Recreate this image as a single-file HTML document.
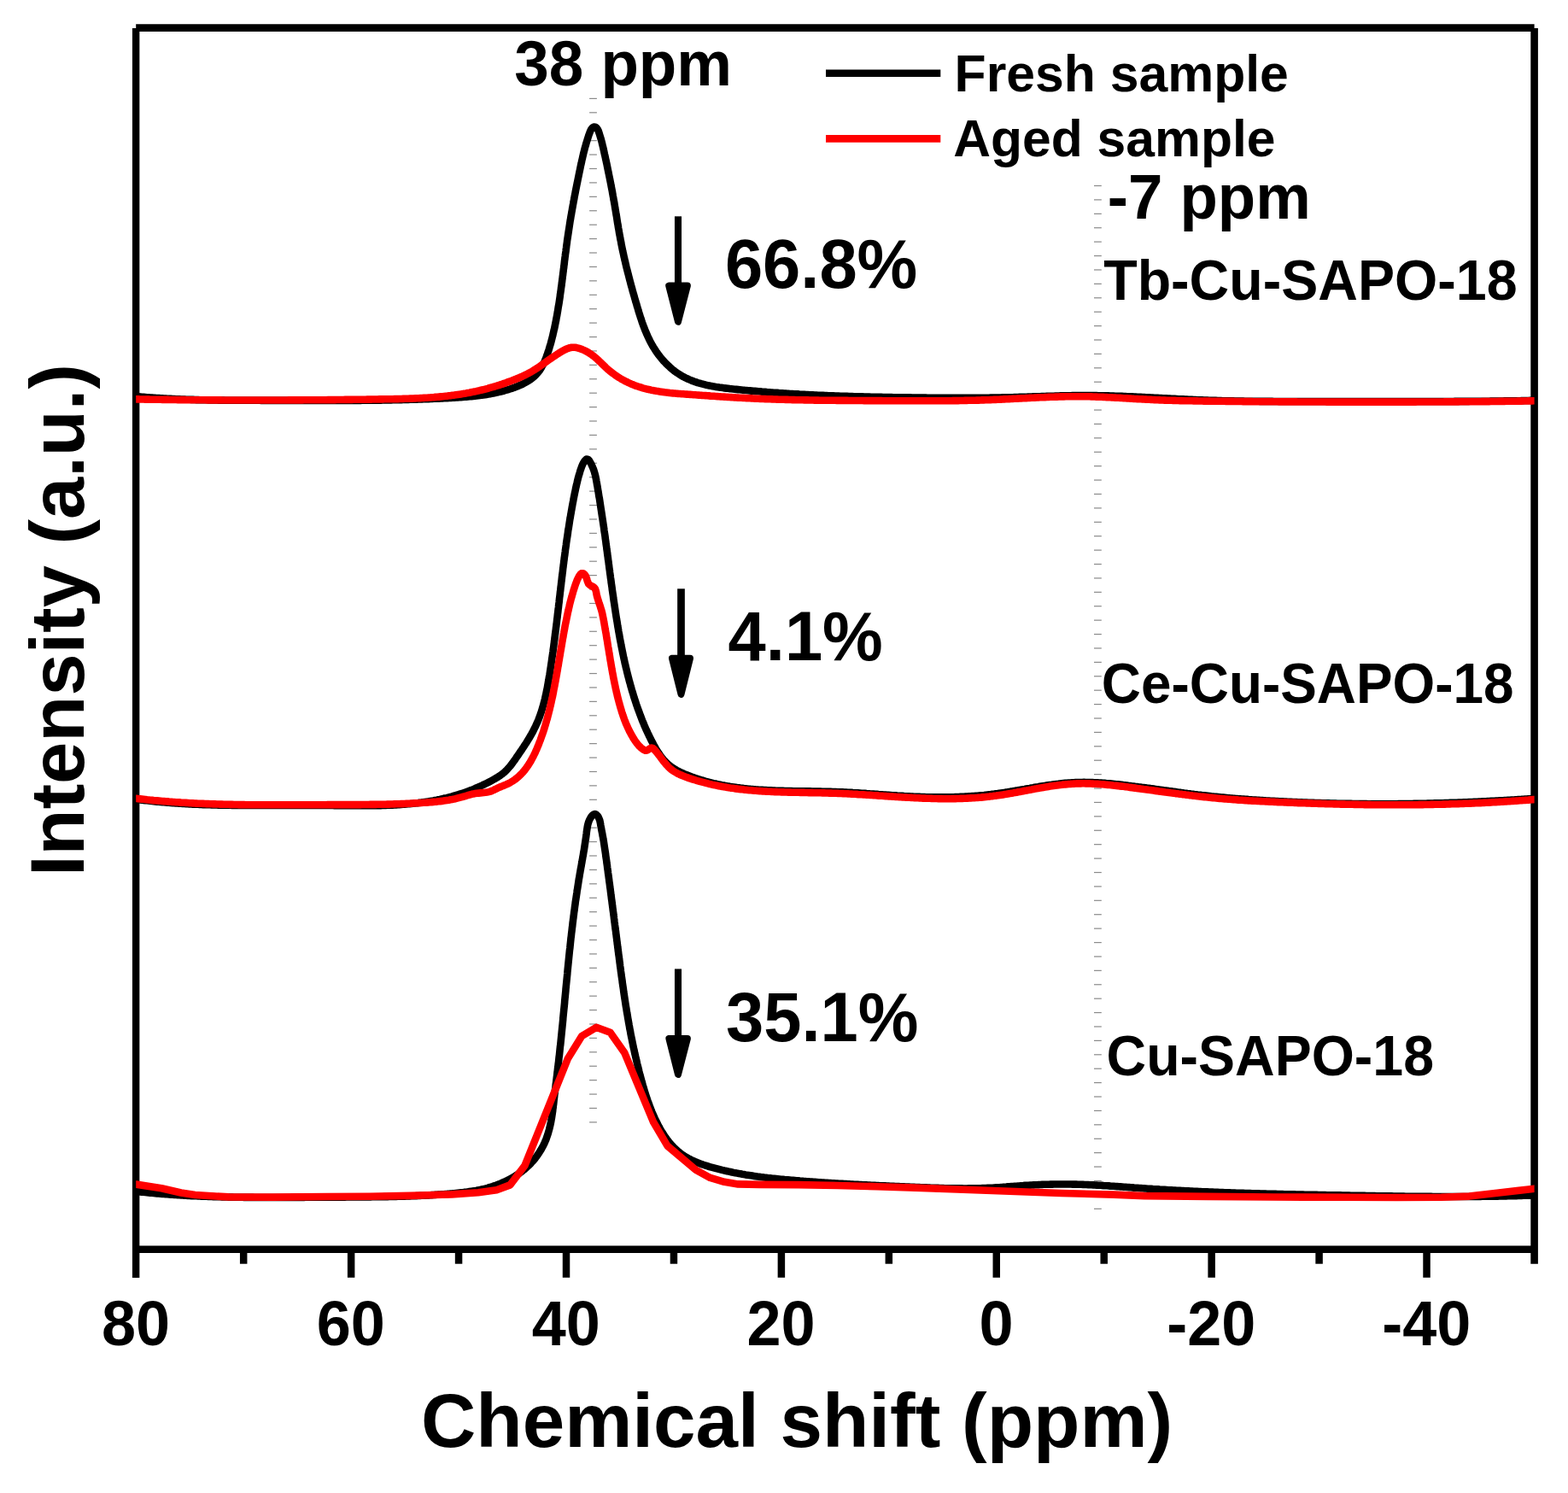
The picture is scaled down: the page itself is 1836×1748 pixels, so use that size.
<!DOCTYPE html>
<html><head><meta charset="utf-8"><title>Chemical shift plot</title>
<style>html,body{margin:0;padding:0;background:#fff;}svg{display:block;}</style>
</head><body>
<svg xmlns="http://www.w3.org/2000/svg" width="1836" height="1748" viewBox="0 0 1836 1748">
<rect x="0" y="0" width="1836" height="1748" fill="#fff"/>
<rect x="690.1" y="114.80" width="8.8" height="1.2" fill="#8a8a8a"/>
<rect x="690.1" y="131.22" width="8.8" height="1.2" fill="#8a8a8a"/>
<rect x="690.1" y="147.64" width="8.8" height="1.2" fill="#8a8a8a"/>
<rect x="690.1" y="164.05" width="8.8" height="1.2" fill="#8a8a8a"/>
<rect x="690.1" y="180.47" width="8.8" height="1.2" fill="#8a8a8a"/>
<rect x="690.1" y="196.89" width="8.8" height="1.2" fill="#8a8a8a"/>
<rect x="690.1" y="213.31" width="8.8" height="1.2" fill="#8a8a8a"/>
<rect x="690.1" y="229.73" width="8.8" height="1.2" fill="#8a8a8a"/>
<rect x="690.1" y="246.14" width="8.8" height="1.2" fill="#8a8a8a"/>
<rect x="690.1" y="262.56" width="8.8" height="1.2" fill="#8a8a8a"/>
<rect x="690.1" y="278.98" width="8.8" height="1.2" fill="#8a8a8a"/>
<rect x="690.1" y="295.40" width="8.8" height="1.2" fill="#8a8a8a"/>
<rect x="690.1" y="311.82" width="8.8" height="1.2" fill="#8a8a8a"/>
<rect x="690.1" y="328.23" width="8.8" height="1.2" fill="#8a8a8a"/>
<rect x="690.1" y="344.65" width="8.8" height="1.2" fill="#8a8a8a"/>
<rect x="690.1" y="361.07" width="8.8" height="1.2" fill="#8a8a8a"/>
<rect x="690.1" y="377.49" width="8.8" height="1.2" fill="#8a8a8a"/>
<rect x="690.1" y="393.91" width="8.8" height="1.2" fill="#8a8a8a"/>
<rect x="690.1" y="410.32" width="8.8" height="1.2" fill="#8a8a8a"/>
<rect x="690.1" y="426.74" width="8.8" height="1.2" fill="#8a8a8a"/>
<rect x="690.1" y="443.16" width="8.8" height="1.2" fill="#8a8a8a"/>
<rect x="690.1" y="459.58" width="8.8" height="1.2" fill="#8a8a8a"/>
<rect x="690.1" y="476.00" width="8.8" height="1.2" fill="#8a8a8a"/>
<rect x="690.1" y="492.41" width="8.8" height="1.2" fill="#8a8a8a"/>
<rect x="690.1" y="508.83" width="8.8" height="1.2" fill="#8a8a8a"/>
<rect x="690.1" y="525.25" width="8.8" height="1.2" fill="#8a8a8a"/>
<rect x="690.1" y="541.67" width="8.8" height="1.2" fill="#8a8a8a"/>
<rect x="690.1" y="558.09" width="8.8" height="1.2" fill="#8a8a8a"/>
<rect x="690.1" y="574.50" width="8.8" height="1.2" fill="#8a8a8a"/>
<rect x="690.1" y="590.92" width="8.8" height="1.2" fill="#8a8a8a"/>
<rect x="690.1" y="607.34" width="8.8" height="1.2" fill="#8a8a8a"/>
<rect x="690.1" y="623.76" width="8.8" height="1.2" fill="#8a8a8a"/>
<rect x="690.1" y="640.18" width="8.8" height="1.2" fill="#8a8a8a"/>
<rect x="690.1" y="656.59" width="8.8" height="1.2" fill="#8a8a8a"/>
<rect x="690.1" y="673.01" width="8.8" height="1.2" fill="#8a8a8a"/>
<rect x="690.1" y="689.43" width="8.8" height="1.2" fill="#8a8a8a"/>
<rect x="690.1" y="705.85" width="8.8" height="1.2" fill="#8a8a8a"/>
<rect x="690.1" y="722.27" width="8.8" height="1.2" fill="#8a8a8a"/>
<rect x="690.1" y="738.68" width="8.8" height="1.2" fill="#8a8a8a"/>
<rect x="690.1" y="755.10" width="8.8" height="1.2" fill="#8a8a8a"/>
<rect x="690.1" y="771.52" width="8.8" height="1.2" fill="#8a8a8a"/>
<rect x="690.1" y="787.94" width="8.8" height="1.2" fill="#8a8a8a"/>
<rect x="690.1" y="804.36" width="8.8" height="1.2" fill="#8a8a8a"/>
<rect x="690.1" y="820.77" width="8.8" height="1.2" fill="#8a8a8a"/>
<rect x="690.1" y="837.19" width="8.8" height="1.2" fill="#8a8a8a"/>
<rect x="690.1" y="853.61" width="8.8" height="1.2" fill="#8a8a8a"/>
<rect x="690.1" y="870.03" width="8.8" height="1.2" fill="#8a8a8a"/>
<rect x="690.1" y="886.45" width="8.8" height="1.2" fill="#8a8a8a"/>
<rect x="690.1" y="902.86" width="8.8" height="1.2" fill="#8a8a8a"/>
<rect x="690.1" y="919.28" width="8.8" height="1.2" fill="#8a8a8a"/>
<rect x="690.1" y="935.70" width="8.8" height="1.2" fill="#8a8a8a"/>
<rect x="690.1" y="952.12" width="8.8" height="1.2" fill="#8a8a8a"/>
<rect x="690.1" y="968.54" width="8.8" height="1.2" fill="#8a8a8a"/>
<rect x="690.1" y="984.95" width="8.8" height="1.2" fill="#8a8a8a"/>
<rect x="690.1" y="1001.37" width="8.8" height="1.2" fill="#8a8a8a"/>
<rect x="690.1" y="1017.79" width="8.8" height="1.2" fill="#8a8a8a"/>
<rect x="690.1" y="1034.21" width="8.8" height="1.2" fill="#8a8a8a"/>
<rect x="690.1" y="1050.63" width="8.8" height="1.2" fill="#8a8a8a"/>
<rect x="690.1" y="1067.04" width="8.8" height="1.2" fill="#8a8a8a"/>
<rect x="690.1" y="1083.46" width="8.8" height="1.2" fill="#8a8a8a"/>
<rect x="690.1" y="1099.88" width="8.8" height="1.2" fill="#8a8a8a"/>
<rect x="690.1" y="1116.30" width="8.8" height="1.2" fill="#8a8a8a"/>
<rect x="690.1" y="1132.72" width="8.8" height="1.2" fill="#8a8a8a"/>
<rect x="690.1" y="1149.13" width="8.8" height="1.2" fill="#8a8a8a"/>
<rect x="690.1" y="1165.55" width="8.8" height="1.2" fill="#8a8a8a"/>
<rect x="690.1" y="1181.97" width="8.8" height="1.2" fill="#8a8a8a"/>
<rect x="690.1" y="1198.39" width="8.8" height="1.2" fill="#8a8a8a"/>
<rect x="690.1" y="1214.81" width="8.8" height="1.2" fill="#8a8a8a"/>
<rect x="690.1" y="1231.22" width="8.8" height="1.2" fill="#8a8a8a"/>
<rect x="690.1" y="1247.64" width="8.8" height="1.2" fill="#8a8a8a"/>
<rect x="690.1" y="1264.06" width="8.8" height="1.2" fill="#8a8a8a"/>
<rect x="690.1" y="1280.48" width="8.8" height="1.2" fill="#8a8a8a"/>
<rect x="690.1" y="1296.90" width="8.8" height="1.2" fill="#8a8a8a"/>
<rect x="690.1" y="1313.31" width="8.8" height="1.2" fill="#8a8a8a"/>
<rect x="1281.0" y="216.90" width="8.8" height="1.2" fill="#8a8a8a"/>
<rect x="1281.0" y="233.31" width="8.8" height="1.2" fill="#8a8a8a"/>
<rect x="1281.0" y="249.72" width="8.8" height="1.2" fill="#8a8a8a"/>
<rect x="1281.0" y="266.12" width="8.8" height="1.2" fill="#8a8a8a"/>
<rect x="1281.0" y="282.53" width="8.8" height="1.2" fill="#8a8a8a"/>
<rect x="1281.0" y="298.94" width="8.8" height="1.2" fill="#8a8a8a"/>
<rect x="1281.0" y="315.35" width="8.8" height="1.2" fill="#8a8a8a"/>
<rect x="1281.0" y="331.76" width="8.8" height="1.2" fill="#8a8a8a"/>
<rect x="1281.0" y="348.16" width="8.8" height="1.2" fill="#8a8a8a"/>
<rect x="1281.0" y="364.57" width="8.8" height="1.2" fill="#8a8a8a"/>
<rect x="1281.0" y="380.98" width="8.8" height="1.2" fill="#8a8a8a"/>
<rect x="1281.0" y="397.39" width="8.8" height="1.2" fill="#8a8a8a"/>
<rect x="1281.0" y="413.80" width="8.8" height="1.2" fill="#8a8a8a"/>
<rect x="1281.0" y="430.20" width="8.8" height="1.2" fill="#8a8a8a"/>
<rect x="1281.0" y="446.61" width="8.8" height="1.2" fill="#8a8a8a"/>
<rect x="1281.0" y="463.02" width="8.8" height="1.2" fill="#8a8a8a"/>
<rect x="1281.0" y="479.43" width="8.8" height="1.2" fill="#8a8a8a"/>
<rect x="1281.0" y="495.84" width="8.8" height="1.2" fill="#8a8a8a"/>
<rect x="1281.0" y="512.24" width="8.8" height="1.2" fill="#8a8a8a"/>
<rect x="1281.0" y="528.65" width="8.8" height="1.2" fill="#8a8a8a"/>
<rect x="1281.0" y="545.06" width="8.8" height="1.2" fill="#8a8a8a"/>
<rect x="1281.0" y="561.47" width="8.8" height="1.2" fill="#8a8a8a"/>
<rect x="1281.0" y="577.88" width="8.8" height="1.2" fill="#8a8a8a"/>
<rect x="1281.0" y="594.28" width="8.8" height="1.2" fill="#8a8a8a"/>
<rect x="1281.0" y="610.69" width="8.8" height="1.2" fill="#8a8a8a"/>
<rect x="1281.0" y="627.10" width="8.8" height="1.2" fill="#8a8a8a"/>
<rect x="1281.0" y="643.51" width="8.8" height="1.2" fill="#8a8a8a"/>
<rect x="1281.0" y="659.92" width="8.8" height="1.2" fill="#8a8a8a"/>
<rect x="1281.0" y="676.32" width="8.8" height="1.2" fill="#8a8a8a"/>
<rect x="1281.0" y="692.73" width="8.8" height="1.2" fill="#8a8a8a"/>
<rect x="1281.0" y="709.14" width="8.8" height="1.2" fill="#8a8a8a"/>
<rect x="1281.0" y="725.55" width="8.8" height="1.2" fill="#8a8a8a"/>
<rect x="1281.0" y="741.96" width="8.8" height="1.2" fill="#8a8a8a"/>
<rect x="1281.0" y="758.36" width="8.8" height="1.2" fill="#8a8a8a"/>
<rect x="1281.0" y="774.77" width="8.8" height="1.2" fill="#8a8a8a"/>
<rect x="1281.0" y="791.18" width="8.8" height="1.2" fill="#8a8a8a"/>
<rect x="1281.0" y="807.59" width="8.8" height="1.2" fill="#8a8a8a"/>
<rect x="1281.0" y="824.00" width="8.8" height="1.2" fill="#8a8a8a"/>
<rect x="1281.0" y="840.40" width="8.8" height="1.2" fill="#8a8a8a"/>
<rect x="1281.0" y="856.81" width="8.8" height="1.2" fill="#8a8a8a"/>
<rect x="1281.0" y="873.22" width="8.8" height="1.2" fill="#8a8a8a"/>
<rect x="1281.0" y="889.63" width="8.8" height="1.2" fill="#8a8a8a"/>
<rect x="1281.0" y="906.04" width="8.8" height="1.2" fill="#8a8a8a"/>
<rect x="1281.0" y="922.44" width="8.8" height="1.2" fill="#8a8a8a"/>
<rect x="1281.0" y="938.85" width="8.8" height="1.2" fill="#8a8a8a"/>
<rect x="1281.0" y="955.26" width="8.8" height="1.2" fill="#8a8a8a"/>
<rect x="1281.0" y="971.67" width="8.8" height="1.2" fill="#8a8a8a"/>
<rect x="1281.0" y="988.08" width="8.8" height="1.2" fill="#8a8a8a"/>
<rect x="1281.0" y="1004.48" width="8.8" height="1.2" fill="#8a8a8a"/>
<rect x="1281.0" y="1020.89" width="8.8" height="1.2" fill="#8a8a8a"/>
<rect x="1281.0" y="1037.30" width="8.8" height="1.2" fill="#8a8a8a"/>
<rect x="1281.0" y="1053.71" width="8.8" height="1.2" fill="#8a8a8a"/>
<rect x="1281.0" y="1070.12" width="8.8" height="1.2" fill="#8a8a8a"/>
<rect x="1281.0" y="1086.52" width="8.8" height="1.2" fill="#8a8a8a"/>
<rect x="1281.0" y="1102.93" width="8.8" height="1.2" fill="#8a8a8a"/>
<rect x="1281.0" y="1119.34" width="8.8" height="1.2" fill="#8a8a8a"/>
<rect x="1281.0" y="1135.75" width="8.8" height="1.2" fill="#8a8a8a"/>
<rect x="1281.0" y="1152.16" width="8.8" height="1.2" fill="#8a8a8a"/>
<rect x="1281.0" y="1168.56" width="8.8" height="1.2" fill="#8a8a8a"/>
<rect x="1281.0" y="1184.97" width="8.8" height="1.2" fill="#8a8a8a"/>
<rect x="1281.0" y="1201.38" width="8.8" height="1.2" fill="#8a8a8a"/>
<rect x="1281.0" y="1217.79" width="8.8" height="1.2" fill="#8a8a8a"/>
<rect x="1281.0" y="1234.20" width="8.8" height="1.2" fill="#8a8a8a"/>
<rect x="1281.0" y="1250.60" width="8.8" height="1.2" fill="#8a8a8a"/>
<rect x="1281.0" y="1267.01" width="8.8" height="1.2" fill="#8a8a8a"/>
<rect x="1281.0" y="1283.42" width="8.8" height="1.2" fill="#8a8a8a"/>
<rect x="1281.0" y="1299.83" width="8.8" height="1.2" fill="#8a8a8a"/>
<rect x="1281.0" y="1316.24" width="8.8" height="1.2" fill="#8a8a8a"/>
<rect x="1281.0" y="1332.64" width="8.8" height="1.2" fill="#8a8a8a"/>
<rect x="1281.0" y="1349.05" width="8.8" height="1.2" fill="#8a8a8a"/>
<rect x="1281.0" y="1365.46" width="8.8" height="1.2" fill="#8a8a8a"/>
<rect x="1281.0" y="1381.87" width="8.8" height="1.2" fill="#8a8a8a"/>
<rect x="1281.0" y="1398.28" width="8.8" height="1.2" fill="#8a8a8a"/>
<rect x="1281.0" y="1414.68" width="8.8" height="1.2" fill="#8a8a8a"/>
<line x1="159.2" y1="32.55" x2="1796.6" y2="32.55" stroke="#000" stroke-width="8.7"/>
<line x1="159.15" y1="33" x2="159.15" y2="1496" stroke="#000" stroke-width="8.4"/>
<line x1="1796.6" y1="33" x2="1796.6" y2="1479.7" stroke="#000" stroke-width="8.6"/>
<line x1="159.2" y1="1462.75" x2="1796.6" y2="1462.75" stroke="#000" stroke-width="8.5"/>
<line x1="285.19" y1="1462.75" x2="285.19" y2="1479.7" stroke="#000" stroke-width="8.5"/>
<line x1="411.13" y1="1462.75" x2="411.13" y2="1495.8" stroke="#000" stroke-width="8.5"/>
<line x1="537.07" y1="1462.75" x2="537.07" y2="1479.7" stroke="#000" stroke-width="8.5"/>
<line x1="663.01" y1="1462.75" x2="663.01" y2="1495.8" stroke="#000" stroke-width="8.5"/>
<line x1="788.95" y1="1462.75" x2="788.95" y2="1479.7" stroke="#000" stroke-width="8.5"/>
<line x1="914.89" y1="1462.75" x2="914.89" y2="1495.8" stroke="#000" stroke-width="8.5"/>
<line x1="1040.83" y1="1462.75" x2="1040.83" y2="1479.7" stroke="#000" stroke-width="8.5"/>
<line x1="1166.77" y1="1462.75" x2="1166.77" y2="1495.8" stroke="#000" stroke-width="8.5"/>
<line x1="1292.71" y1="1462.75" x2="1292.71" y2="1479.7" stroke="#000" stroke-width="8.5"/>
<line x1="1418.65" y1="1462.75" x2="1418.65" y2="1495.8" stroke="#000" stroke-width="8.5"/>
<line x1="1544.59" y1="1462.75" x2="1544.59" y2="1479.7" stroke="#000" stroke-width="8.5"/>
<line x1="1670.53" y1="1462.75" x2="1670.53" y2="1495.8" stroke="#000" stroke-width="8.5"/>
<defs><clipPath id="plot"><rect x="159.2" y="30" width="1637.4" height="1440"/></clipPath></defs>
<g clip-path="url(#plot)">
<path d="M154.2,463.6 L156.2,463.8 L158.2,464.0 L160.2,464.1 L162.2,464.3 L164.2,464.5 L166.2,464.7 L168.2,464.8 L170.1,465.0 L172.1,465.2 L174.1,465.3 L176.1,465.5 L178.1,465.6 L180.1,465.7 L182.1,465.9 L184.1,466.0 L186.1,466.1 L188.1,466.3 L190.1,466.4 L192.1,466.5 L194.1,466.6 L196.1,466.7 L198.1,466.8 L200.1,466.9 L202.1,467.0 L204.1,467.1 L206.1,467.2 L208.1,467.3 L210.1,467.4 L212.1,467.5 L214.1,467.5 L216.1,467.6 L218.1,467.7 L220.1,467.8 L222.1,467.8 L224.1,467.9 L226.1,467.9 L228.1,468.0 L230.1,468.1 L232.1,468.1 L234.1,468.2 L236.1,468.2 L238.1,468.3 L240.0,468.3 L242.0,468.3 L244.0,468.4 L246.0,468.4 L248.0,468.5 L250.0,468.5 L252.0,468.5 L254.0,468.5 L256.0,468.6 L258.0,468.6 L260.0,468.6 L262.0,468.6 L264.0,468.7 L266.0,468.7 L268.0,468.7 L270.0,468.7 L272.0,468.7 L274.0,468.7 L276.0,468.8 L278.0,468.8 L280.0,468.8 L282.0,468.8 L284.0,468.8 L286.0,468.8 L288.0,468.8 L290.0,468.8 L292.0,468.8 L294.0,468.8 L296.0,468.8 L298.0,468.8 L300.0,468.8 L302.0,468.8 L304.0,468.8 L306.0,468.9 L308.0,468.9 L310.0,468.9 L312.0,468.9 L314.0,468.9 L316.0,468.9 L318.0,468.9 L320.0,468.9 L322.0,468.9 L324.0,468.9 L326.0,468.9 L328.0,468.9 L330.0,468.9 L332.0,468.9 L334.0,468.9 L336.0,468.9 L338.0,468.9 L340.0,468.9 L342.0,468.9 L344.0,468.9 L346.0,468.9 L348.0,468.9 L350.0,468.9 L352.0,469.0 L354.0,469.0 L356.0,469.0 L358.0,469.0 L360.0,469.0 L362.0,469.0 L364.0,469.0 L366.0,469.0 L368.0,469.0 L370.0,469.0 L372.0,469.0 L374.0,469.0 L376.0,469.0 L378.0,469.0 L380.0,469.0 L382.0,469.0 L384.0,469.0 L386.0,469.0 L388.0,469.0 L390.0,469.0 L392.0,469.0 L394.0,469.0 L396.0,469.0 L398.0,469.0 L400.0,469.0 L402.0,469.0 L404.0,469.0 L406.0,468.9 L408.0,468.9 L410.0,468.9 L412.0,468.9 L414.0,468.9 L416.0,468.9 L418.0,468.9 L420.0,468.9 L422.0,468.9 L424.0,468.8 L426.0,468.8 L428.0,468.8 L430.0,468.8 L432.0,468.8 L434.0,468.7 L436.0,468.7 L438.0,468.7 L440.0,468.7 L442.0,468.6 L444.0,468.6 L446.0,468.6 L448.0,468.5 L450.0,468.5 L452.0,468.5 L454.0,468.4 L456.0,468.4 L458.0,468.4 L460.0,468.3 L462.0,468.3 L464.0,468.2 L466.0,468.2 L468.0,468.1 L470.0,468.1 L472.0,468.0 L474.0,468.0 L476.0,467.9 L478.0,467.9 L480.0,467.8 L482.0,467.8 L484.0,467.7 L486.0,467.7 L488.0,467.6 L490.0,467.5 L492.0,467.5 L494.0,467.4 L496.0,467.3 L498.0,467.2 L500.0,467.2 L502.0,467.1 L504.0,467.0 L506.0,466.9 L508.0,466.8 L510.0,466.7 L512.0,466.7 L514.0,466.6 L516.0,466.5 L518.0,466.4 L520.0,466.3 L522.0,466.2 L524.0,466.1 L526.0,466.0 L528.0,465.9 L530.0,465.8 L532.0,465.6 L534.0,465.5 L535.9,465.4 L537.9,465.3 L539.9,465.1 L541.9,465.0 L543.9,464.8 L545.9,464.7 L547.9,464.5 L549.9,464.3 L551.9,464.1 L553.9,463.9 L555.9,463.7 L557.9,463.5 L559.8,463.3 L561.8,463.0 L563.8,462.8 L565.8,462.5 L567.8,462.2 L569.7,461.9 L571.7,461.6 L573.7,461.2 L575.7,460.8 L577.6,460.5 L579.6,460.1 L581.5,459.6 L583.5,459.2 L585.4,458.7 L587.4,458.3 L589.3,457.8 L591.2,457.2 L593.2,456.7 L595.1,456.1 L597.0,455.5 L598.9,454.9 L600.8,454.2 L602.7,453.6 L604.5,452.8 L606.4,452.1 L608.2,451.3 L610.1,450.5 L611.9,449.7 L613.6,448.8 L615.4,447.8 L617.1,446.8 L618.8,445.8 L620.5,444.7 L622.1,443.5 L623.7,442.3 L625.2,441.0 L626.7,439.6 L628.1,438.2 L629.4,436.7 L630.7,435.2 L631.9,433.6 L633.0,431.9 L634.1,430.2 L635.0,428.4 L636.0,426.7 L636.8,424.9 L637.7,423.1 L638.4,421.2 L639.2,419.4 L639.9,417.5 L640.6,415.6 L641.2,413.7 L641.8,411.8 L642.5,409.9 L643.1,408.0 L643.6,406.1 L644.2,404.2 L644.8,402.2 L645.3,400.3 L645.8,398.4 L646.3,396.5 L646.8,394.5 L647.3,392.6 L647.7,390.6 L648.2,388.7 L648.6,386.7 L649.1,384.8 L649.5,382.8 L649.9,380.9 L650.3,378.9 L650.7,376.9 L651.1,375.0 L651.4,373.0 L651.8,371.0 L652.2,369.1 L652.5,367.1 L652.9,365.1 L653.2,363.2 L653.5,361.2 L653.8,359.2 L654.2,357.2 L654.5,355.3 L654.8,353.3 L655.1,351.3 L655.4,349.3 L655.7,347.4 L655.9,345.4 L656.2,343.4 L656.5,341.4 L656.8,339.4 L657.0,337.5 L657.3,335.5 L657.6,333.5 L657.8,331.5 L658.1,329.5 L658.3,327.5 L658.6,325.6 L658.8,323.6 L659.1,321.6 L659.3,319.6 L659.6,317.6 L659.8,315.6 L660.1,313.7 L660.3,311.7 L660.6,309.7 L660.8,307.7 L661.0,305.7 L661.3,303.7 L661.5,301.7 L661.8,299.8 L662.0,297.8 L662.3,295.8 L662.6,293.8 L662.8,291.8 L663.1,289.8 L663.3,287.9 L663.6,285.9 L663.9,283.9 L664.1,281.9 L664.4,279.9 L664.7,278.0 L665.0,276.0 L665.3,274.0 L665.6,272.0 L665.9,270.0 L666.2,268.1 L666.5,266.1 L666.8,264.1 L667.1,262.1 L667.4,260.2 L667.7,258.2 L668.1,256.2 L668.4,254.2 L668.7,252.3 L669.1,250.3 L669.4,248.3 L669.8,246.4 L670.1,244.4 L670.5,242.4 L670.8,240.5 L671.2,238.5 L671.5,236.5 L671.9,234.6 L672.3,232.6 L672.6,230.6 L673.0,228.7 L673.4,226.7 L673.8,224.7 L674.1,222.8 L674.5,220.8 L674.9,218.8 L675.3,216.9 L675.7,214.9 L676.1,213.0 L676.5,211.0 L676.9,209.0 L677.3,207.1 L677.7,205.1 L678.1,203.2 L678.5,201.2 L678.9,199.3 L679.3,197.3 L679.7,195.3 L680.1,193.4 L680.6,191.4 L681.0,189.5 L681.4,187.5 L681.9,185.6 L682.3,183.6 L682.8,181.7 L683.2,179.7 L683.7,177.8 L684.2,175.9 L684.7,173.9 L685.2,172.0 L685.8,170.1 L686.3,168.1 L686.9,166.2 L687.5,164.3 L688.1,162.4 L688.7,160.5 L689.3,158.6 L690.0,156.7 L690.7,154.8 L691.4,153.0 L692.4,151.2 L693.6,149.7 L695.3,148.6 L697.2,148.8 L698.8,150.0 L699.9,151.7 L700.8,153.5 L701.4,155.4 L702.0,157.3 L702.6,159.2 L703.2,161.1 L703.7,163.0 L704.3,165.0 L704.8,166.9 L705.2,168.8 L705.7,170.8 L706.2,172.7 L706.6,174.7 L707.1,176.6 L707.5,178.6 L707.9,180.5 L708.4,182.5 L708.8,184.4 L709.2,186.4 L709.7,188.3 L710.1,190.3 L710.5,192.2 L710.9,194.2 L711.3,196.2 L711.7,198.1 L712.1,200.1 L712.5,202.0 L712.9,204.0 L713.3,206.0 L713.7,207.9 L714.1,209.9 L714.5,211.8 L714.9,213.8 L715.3,215.8 L715.6,217.7 L716.0,219.7 L716.4,221.7 L716.8,223.6 L717.1,225.6 L717.5,227.6 L717.8,229.5 L718.2,231.5 L718.5,233.5 L718.9,235.4 L719.2,237.4 L719.6,239.4 L719.9,241.3 L720.2,243.3 L720.6,245.3 L720.9,247.3 L721.2,249.2 L721.5,251.2 L721.9,253.2 L722.2,255.2 L722.5,257.1 L722.8,259.1 L723.1,261.1 L723.5,263.0 L723.8,265.0 L724.1,267.0 L724.5,269.0 L724.8,270.9 L725.1,272.9 L725.5,274.9 L725.9,276.8 L726.2,278.8 L726.6,280.8 L727.0,282.7 L727.3,284.7 L727.7,286.7 L728.1,288.6 L728.5,290.6 L728.9,292.5 L729.3,294.5 L729.8,296.5 L730.2,298.4 L730.6,300.4 L731.1,302.3 L731.5,304.3 L732.0,306.2 L732.4,308.2 L732.9,310.1 L733.3,312.0 L733.8,314.0 L734.3,315.9 L734.8,317.9 L735.3,319.8 L735.8,321.7 L736.3,323.7 L736.8,325.6 L737.3,327.6 L737.8,329.5 L738.3,331.4 L738.8,333.3 L739.3,335.3 L739.9,337.2 L740.4,339.1 L740.9,341.1 L741.5,343.0 L742.0,344.9 L742.6,346.8 L743.1,348.8 L743.7,350.7 L744.2,352.6 L744.8,354.5 L745.4,356.4 L745.9,358.4 L746.5,360.3 L747.1,362.2 L747.6,364.1 L748.2,366.0 L748.8,367.9 L749.4,369.8 L750.0,371.7 L750.7,373.6 L751.3,375.5 L751.9,377.4 L752.6,379.3 L753.3,381.2 L754.0,383.1 L754.7,384.9 L755.4,386.8 L756.2,388.6 L757.0,390.5 L757.8,392.3 L758.6,394.1 L759.5,395.9 L760.3,397.7 L761.2,399.5 L762.2,401.3 L763.1,403.0 L764.1,404.8 L765.1,406.5 L766.2,408.2 L767.3,409.9 L768.4,411.6 L769.5,413.2 L770.7,414.8 L771.9,416.4 L773.1,418.0 L774.4,419.5 L775.7,421.1 L777.0,422.6 L778.4,424.0 L779.7,425.5 L781.2,426.9 L782.6,428.3 L784.1,429.6 L785.6,431.0 L787.1,432.3 L788.6,433.5 L790.2,434.7 L791.9,435.9 L793.5,437.0 L795.2,438.1 L796.9,439.2 L798.6,440.2 L800.3,441.2 L802.1,442.1 L803.9,443.0 L805.7,443.8 L807.6,444.6 L809.4,445.4 L811.3,446.1 L813.2,446.8 L815.0,447.4 L816.9,448.1 L818.9,448.6 L820.8,449.2 L822.7,449.7 L824.6,450.2 L826.6,450.7 L828.5,451.1 L830.5,451.5 L832.5,451.9 L834.4,452.3 L836.4,452.6 L838.4,453.0 L840.3,453.3 L842.3,453.6 L844.3,453.8 L846.3,454.1 L848.3,454.4 L850.3,454.6 L852.2,454.8 L854.2,455.1 L856.2,455.3 L858.2,455.5 L860.2,455.7 L862.2,455.9 L864.2,456.1 L866.2,456.3 L868.2,456.5 L870.1,456.7 L872.1,456.9 L874.1,457.0 L876.1,457.2 L878.1,457.4 L880.1,457.6 L882.1,457.8 L884.1,457.9 L886.1,458.1 L888.1,458.3 L890.1,458.4 L892.1,458.6 L894.1,458.7 L896.0,458.9 L898.0,459.1 L900.0,459.2 L902.0,459.4 L904.0,459.5 L906.0,459.7 L908.0,459.8 L910.0,459.9 L912.0,460.1 L914.0,460.2 L916.0,460.3 L918.0,460.5 L920.0,460.6 L922.0,460.7 L924.0,460.9 L926.0,461.0 L928.0,461.1 L930.0,461.2 L932.0,461.3 L934.0,461.4 L936.0,461.6 L937.9,461.7 L939.9,461.8 L941.9,461.9 L943.9,462.0 L945.9,462.1 L947.9,462.2 L949.9,462.3 L951.9,462.4 L953.9,462.5 L955.9,462.6 L957.9,462.7 L959.9,462.7 L961.9,462.8 L963.9,462.9 L965.9,463.0 L967.9,463.1 L969.9,463.2 L971.9,463.2 L973.9,463.3 L975.9,463.4 L977.9,463.5 L979.9,463.5 L981.9,463.6 L983.9,463.7 L985.9,463.7 L987.9,463.8 L989.9,463.9 L991.9,463.9 L993.9,464.0 L995.9,464.1 L997.9,464.1 L999.9,464.2 L1001.9,464.2 L1003.9,464.3 L1005.9,464.3 L1007.9,464.4 L1009.9,464.4 L1011.9,464.5 L1013.9,464.5 L1015.9,464.6 L1017.9,464.6 L1019.9,464.7 L1021.9,464.7 L1023.9,464.8 L1025.9,464.8 L1027.9,464.8 L1029.9,464.9 L1031.9,464.9 L1033.9,465.0 L1035.9,465.0 L1037.9,465.0 L1039.9,465.1 L1041.9,465.1 L1043.9,465.1 L1045.9,465.2 L1047.9,465.2 L1049.9,465.2 L1051.9,465.3 L1053.9,465.3 L1055.9,465.3 L1057.9,465.3 L1059.9,465.4 L1061.9,465.4 L1063.9,465.4 L1065.9,465.4 L1067.9,465.5 L1069.9,465.5 L1071.9,465.5 L1073.9,465.5 L1075.9,465.6 L1077.9,465.6 L1079.9,465.6 L1081.9,465.6 L1083.9,465.6 L1085.9,465.7 L1087.9,465.7 L1089.9,465.7 L1091.9,465.7 L1093.9,465.7 L1095.9,465.8 L1097.9,465.8 L1099.9,465.8 L1101.9,465.8 L1103.9,465.8 L1105.9,465.8 L1107.9,465.8 L1109.9,465.8 L1111.9,465.8 L1113.9,465.8 L1115.9,465.9 L1117.9,465.9 L1119.9,465.9 L1121.9,465.9 L1123.9,465.9 L1125.9,465.9 L1127.9,465.9 L1129.9,465.9 L1131.9,465.9 L1133.9,465.8 L1135.9,465.8 L1137.9,465.8 L1139.9,465.8 L1141.9,465.8 L1143.9,465.8 L1145.9,465.8 L1147.9,465.8 L1149.9,465.8 L1151.9,465.7 L1153.9,465.7 L1155.9,465.7 L1157.9,465.7 L1159.9,465.6 L1161.9,465.6 L1163.9,465.6 L1165.9,465.6 L1167.9,465.5 L1169.9,465.5 L1171.9,465.5 L1173.9,465.4 L1175.9,465.4 L1177.8,465.3 L1179.8,465.3 L1181.8,465.3 L1183.8,465.2 L1185.8,465.2 L1187.8,465.1 L1189.8,465.1 L1191.8,465.0 L1193.8,464.9 L1195.8,464.9 L1197.8,464.8 L1199.8,464.8 L1201.8,464.7 L1203.8,464.6 L1205.8,464.6 L1207.8,464.5 L1209.8,464.4 L1211.8,464.4 L1213.8,464.3 L1215.8,464.2 L1217.8,464.2 L1219.8,464.1 L1221.8,464.0 L1223.8,464.0 L1225.8,463.9 L1227.8,463.8 L1229.8,463.8 L1231.8,463.7 L1233.8,463.7 L1235.8,463.6 L1237.8,463.5 L1239.8,463.5 L1241.8,463.4 L1243.8,463.4 L1245.8,463.3 L1247.8,463.3 L1249.8,463.2 L1251.8,463.2 L1253.8,463.2 L1255.8,463.1 L1257.8,463.1 L1259.8,463.1 L1261.8,463.1 L1263.8,463.1 L1265.8,463.0 L1267.8,463.0 L1269.8,463.0 L1271.8,463.0 L1273.8,463.0 L1275.8,463.0 L1277.8,463.1 L1279.8,463.1 L1281.8,463.1 L1283.8,463.1 L1285.8,463.2 L1287.8,463.2 L1289.8,463.2 L1291.8,463.3 L1293.8,463.3 L1295.8,463.4 L1297.8,463.4 L1299.8,463.5 L1301.8,463.5 L1303.8,463.6 L1305.8,463.7 L1307.8,463.7 L1309.8,463.8 L1311.8,463.9 L1313.8,463.9 L1315.8,464.0 L1317.8,464.1 L1319.8,464.2 L1321.8,464.3 L1323.8,464.4 L1325.8,464.4 L1327.8,464.5 L1329.8,464.6 L1331.8,464.7 L1333.8,464.8 L1335.8,464.9 L1337.8,465.0 L1339.8,465.1 L1341.8,465.2 L1343.8,465.3 L1345.8,465.4 L1347.7,465.5 L1349.7,465.6 L1351.7,465.7 L1353.7,465.8 L1355.7,465.9 L1357.7,466.0 L1359.7,466.1 L1361.7,466.2 L1363.7,466.3 L1365.7,466.4 L1367.7,466.5 L1369.7,466.6 L1371.7,466.7 L1373.7,466.8 L1375.7,466.9 L1377.7,467.0 L1379.7,467.2 L1381.7,467.2 L1383.7,467.3 L1385.7,467.4 L1387.7,467.5 L1389.7,467.6 L1391.7,467.7 L1393.7,467.8 L1395.7,467.9 L1397.7,468.0 L1399.7,468.1 L1401.7,468.2 L1403.7,468.3 L1405.7,468.3 L1407.7,468.4 L1409.7,468.5 L1411.7,468.6 L1413.7,468.6 L1415.7,468.7 L1417.7,468.8 L1419.7,468.8 L1421.7,468.9 L1423.7,468.9 L1425.7,469.0 L1427.7,469.1 L1429.7,469.1 L1431.7,469.2 L1433.7,469.2 L1435.7,469.3 L1437.7,469.3 L1439.7,469.4 L1441.7,469.4 L1443.7,469.4 L1445.7,469.5 L1447.7,469.5 L1449.7,469.5 L1451.7,469.6 L1453.6,469.6 L1455.6,469.6 L1457.6,469.7 L1459.6,469.7 L1461.6,469.7 L1463.6,469.7 L1465.6,469.8 L1467.6,469.8 L1469.6,469.8 L1471.6,469.8 L1473.6,469.8 L1475.6,469.9 L1477.6,469.9 L1479.6,469.9 L1481.6,469.9 L1483.6,469.9 L1485.6,469.9 L1487.6,469.9 L1489.6,469.9 L1491.6,470.0 L1493.6,470.0 L1495.6,470.0 L1497.6,470.0 L1499.6,470.0 L1501.6,470.0 L1503.6,470.0 L1505.6,470.0 L1507.6,470.0 L1509.6,470.0 L1511.6,470.0 L1513.6,470.0 L1515.6,470.0 L1517.6,470.0 L1519.6,470.0 L1521.6,470.0 L1523.6,470.0 L1525.6,470.0 L1527.6,470.0 L1529.6,470.0 L1531.6,470.0 L1533.6,470.0 L1535.6,470.0 L1537.6,470.0 L1539.6,470.0 L1541.6,470.0 L1543.6,470.0 L1545.6,470.0 L1547.6,470.0 L1549.6,470.0 L1551.6,470.0 L1553.6,470.0 L1555.6,470.0 L1557.6,470.0 L1559.6,470.0 L1561.6,470.0 L1563.6,470.0 L1565.6,470.0 L1567.6,470.0 L1569.6,470.0 L1571.6,470.0 L1573.6,470.0 L1575.6,470.0 L1577.6,470.0 L1579.6,470.0 L1581.6,470.0 L1583.6,470.0 L1585.6,470.0 L1587.6,470.0 L1589.6,470.0 L1591.6,470.0 L1593.6,470.0 L1595.6,470.0 L1597.6,470.0 L1599.6,470.0 L1601.6,470.0 L1603.6,470.0 L1605.6,470.0 L1607.6,470.0 L1609.6,470.0 L1611.6,470.0 L1613.6,470.0 L1615.6,470.0 L1617.6,470.0 L1619.6,470.0 L1621.6,470.0 L1623.6,470.0 L1625.6,470.0 L1627.6,470.0 L1629.6,470.0 L1631.6,470.0 L1633.6,470.0 L1635.6,470.0 L1637.6,470.0 L1639.6,470.0 L1641.6,470.0 L1643.6,470.0 L1645.6,470.0 L1647.6,470.0 L1649.6,470.0 L1651.6,470.0 L1653.6,470.0 L1655.6,470.0 L1657.6,470.0 L1659.6,470.0 L1661.6,470.0 L1663.6,470.0 L1665.6,470.0 L1667.6,470.0 L1669.6,470.0 L1671.6,470.0 L1673.6,470.0 L1675.6,470.0 L1677.6,470.0 L1679.6,470.0 L1681.6,470.0 L1683.6,470.0 L1685.6,470.0 L1687.6,470.0 L1689.6,470.0 L1691.6,470.0 L1693.6,470.0 L1695.6,470.0 L1697.6,470.0 L1699.6,470.0 L1701.6,470.0 L1703.6,469.9 L1705.6,469.9 L1707.6,469.9 L1709.6,469.9 L1711.6,469.9 L1713.6,469.9 L1715.6,469.9 L1717.6,469.9 L1719.6,469.9 L1721.6,469.8 L1723.6,469.8 L1725.6,469.8 L1727.6,469.8 L1729.6,469.8 L1731.6,469.8 L1733.6,469.7 L1735.6,469.7 L1737.6,469.7 L1739.6,469.7 L1741.6,469.7 L1743.6,469.7 L1745.6,469.6 L1747.6,469.6 L1749.6,469.6 L1751.6,469.6 L1753.6,469.5 L1755.6,469.5 L1757.6,469.5 L1759.6,469.5 L1761.6,469.4 L1763.6,469.4 L1765.6,469.4 L1767.6,469.3 L1769.6,469.3 L1771.6,469.3 L1773.6,469.3 L1775.6,469.2 L1777.6,469.2 L1779.6,469.2 L1781.6,469.1 L1783.6,469.1 L1785.6,469.0 L1787.6,469.0 L1789.6,469.0 L1791.6,468.9 L1793.6,468.9 L1795.6,468.8 L1797.6,468.8 L1799.6,468.7 L1801.6,468.7" fill="none" stroke="#000" stroke-width="8.6" stroke-linejoin="round" stroke-linecap="butt"/>
<path d="M154.1,935.0 L156.1,935.3 L158.1,935.6 L160.1,935.9 L162.1,936.1 L164.1,936.4 L166.0,936.6 L168.0,936.9 L170.0,937.1 L172.0,937.3 L174.0,937.5 L176.0,937.8 L178.0,938.0 L179.9,938.2 L181.9,938.4 L183.9,938.6 L185.9,938.8 L187.9,939.0 L189.9,939.1 L191.9,939.3 L193.9,939.5 L195.9,939.6 L197.9,939.8 L199.9,940.0 L201.9,940.1 L203.8,940.2 L205.8,940.4 L207.8,940.5 L209.8,940.7 L211.8,940.8 L213.8,940.9 L215.8,941.0 L217.8,941.1 L219.8,941.2 L221.8,941.4 L223.8,941.5 L225.8,941.6 L227.8,941.6 L229.8,941.7 L231.8,941.8 L233.8,941.9 L235.8,942.0 L237.8,942.1 L239.8,942.1 L241.8,942.2 L243.8,942.3 L245.8,942.3 L247.8,942.4 L249.8,942.4 L251.8,942.5 L253.8,942.5 L255.8,942.6 L257.8,942.6 L259.8,942.7 L261.8,942.7 L263.8,942.7 L265.8,942.8 L267.8,942.8 L269.8,942.8 L271.8,942.9 L273.8,942.9 L275.8,942.9 L277.8,942.9 L279.8,942.9 L281.8,943.0 L283.8,943.0 L285.8,943.0 L287.7,943.0 L289.7,943.0 L291.7,943.0 L293.7,943.0 L295.7,943.0 L297.7,943.0 L299.7,943.0 L301.7,943.0 L303.7,943.0 L305.7,943.0 L307.7,943.0 L309.7,943.0 L311.7,943.0 L313.7,943.0 L315.7,943.0 L317.7,943.0 L319.7,943.0 L321.7,943.0 L323.7,943.0 L325.7,943.0 L327.7,943.0 L329.7,943.0 L331.7,943.0 L333.7,942.9 L335.7,942.9 L337.7,942.9 L339.7,942.9 L341.7,942.9 L343.7,942.9 L345.7,942.9 L347.7,942.9 L349.7,942.9 L351.7,942.9 L353.7,942.9 L355.7,942.9 L357.7,942.9 L359.7,942.9 L361.7,942.9 L363.7,942.9 L365.7,942.9 L367.7,942.9 L369.7,942.9 L371.7,942.9 L373.7,942.9 L375.7,942.9 L377.7,942.9 L379.7,942.9 L381.7,943.0 L383.7,943.0 L385.7,943.0 L387.7,943.0 L389.7,943.0 L391.7,943.1 L393.7,943.1 L395.7,943.1 L397.7,943.1 L399.7,943.1 L401.7,943.2 L403.7,943.2 L405.7,943.2 L407.7,943.2 L409.7,943.3 L411.7,943.3 L413.7,943.3 L415.7,943.3 L417.7,943.3 L419.7,943.3 L421.7,943.3 L423.7,943.3 L425.7,943.3 L427.7,943.3 L429.7,943.3 L431.7,943.3 L433.7,943.3 L435.7,943.3 L437.7,943.2 L439.7,943.2 L441.7,943.2 L443.7,943.1 L445.7,943.1 L447.7,943.0 L449.7,943.0 L451.7,942.9 L453.7,942.8 L455.7,942.7 L457.7,942.7 L459.7,942.6 L461.7,942.5 L463.7,942.4 L465.6,942.2 L467.6,942.1 L469.6,942.0 L471.6,941.8 L473.6,941.7 L475.6,941.5 L477.6,941.3 L479.6,941.2 L481.6,941.0 L483.6,940.8 L485.6,940.5 L487.6,940.3 L489.5,940.1 L491.5,939.8 L493.5,939.6 L495.5,939.3 L497.5,939.0 L499.4,938.7 L501.4,938.4 L503.4,938.1 L505.4,937.7 L507.3,937.4 L509.3,937.0 L511.3,936.7 L513.2,936.3 L515.2,935.9 L517.1,935.4 L519.1,935.0 L521.0,934.5 L523.0,934.1 L524.9,933.6 L526.8,933.1 L528.8,932.6 L530.7,932.0 L532.6,931.5 L534.5,930.9 L536.5,930.3 L538.4,929.7 L540.3,929.1 L542.2,928.5 L544.1,927.9 L545.9,927.2 L547.8,926.5 L549.7,925.8 L551.6,925.1 L553.4,924.4 L555.3,923.6 L557.1,922.8 L559.0,922.0 L560.8,921.2 L562.6,920.4 L564.4,919.6 L566.2,918.7 L568.0,917.9 L569.8,917.0 L571.6,916.1 L573.4,915.2 L575.2,914.2 L576.9,913.3 L578.7,912.3 L580.4,911.3 L582.1,910.3 L583.8,909.2 L585.5,908.1 L587.1,906.9 L588.7,905.7 L590.2,904.5 L591.7,903.1 L593.1,901.7 L594.5,900.3 L595.8,898.8 L597.1,897.3 L598.4,895.7 L599.6,894.1 L600.7,892.5 L601.9,890.9 L603.1,889.2 L604.2,887.6 L605.3,885.9 L606.5,884.3 L607.6,882.6 L608.7,881.0 L609.9,879.3 L611.0,877.7 L612.1,876.0 L613.2,874.4 L614.3,872.7 L615.4,871.0 L616.5,869.3 L617.5,867.6 L618.6,865.9 L619.6,864.2 L620.6,862.5 L621.6,860.8 L622.6,859.0 L623.6,857.3 L624.5,855.5 L625.4,853.7 L626.3,851.9 L627.2,850.1 L628.0,848.3 L628.8,846.5 L629.6,844.7 L630.4,842.8 L631.1,840.9 L631.8,839.1 L632.5,837.2 L633.1,835.3 L633.8,833.4 L634.4,831.5 L635.0,829.6 L635.5,827.7 L636.1,825.8 L636.6,823.8 L637.1,821.9 L637.6,820.0 L638.1,818.0 L638.5,816.1 L639.0,814.1 L639.4,812.2 L639.8,810.2 L640.2,808.2 L640.6,806.3 L641.0,804.3 L641.3,802.4 L641.7,800.4 L642.0,798.4 L642.4,796.4 L642.7,794.5 L643.0,792.5 L643.4,790.5 L643.7,788.6 L644.0,786.6 L644.3,784.6 L644.6,782.6 L644.9,780.7 L645.2,778.7 L645.5,776.7 L645.8,774.7 L646.1,772.7 L646.3,770.8 L646.6,768.8 L646.9,766.8 L647.2,764.8 L647.5,762.8 L647.7,760.9 L648.0,758.9 L648.3,756.9 L648.5,754.9 L648.8,752.9 L649.0,751.0 L649.3,749.0 L649.5,747.0 L649.8,745.0 L650.0,743.0 L650.3,741.0 L650.5,739.1 L650.8,737.1 L651.0,735.1 L651.3,733.1 L651.5,731.1 L651.8,729.1 L652.0,727.1 L652.2,725.2 L652.5,723.2 L652.7,721.2 L652.9,719.2 L653.2,717.2 L653.4,715.2 L653.6,713.3 L653.9,711.3 L654.1,709.3 L654.3,707.3 L654.6,705.3 L654.8,703.3 L655.0,701.3 L655.2,699.4 L655.5,697.4 L655.7,695.4 L655.9,693.4 L656.2,691.4 L656.4,689.4 L656.6,687.4 L656.9,685.5 L657.1,683.5 L657.3,681.5 L657.6,679.5 L657.8,677.5 L658.0,675.5 L658.3,673.5 L658.5,671.6 L658.8,669.6 L659.0,667.6 L659.2,665.6 L659.5,663.6 L659.7,661.6 L660.0,659.7 L660.2,657.7 L660.5,655.7 L660.7,653.7 L661.0,651.7 L661.3,649.7 L661.5,647.8 L661.8,645.8 L662.0,643.8 L662.3,641.8 L662.6,639.8 L662.9,637.8 L663.1,635.9 L663.4,633.9 L663.7,631.9 L664.0,629.9 L664.3,628.0 L664.6,626.0 L664.9,624.0 L665.1,622.0 L665.4,620.0 L665.8,618.1 L666.1,616.1 L666.4,614.1 L666.7,612.1 L667.0,610.2 L667.3,608.2 L667.7,606.2 L668.0,604.3 L668.3,602.3 L668.7,600.3 L669.0,598.3 L669.4,596.4 L669.7,594.4 L670.1,592.4 L670.4,590.5 L670.8,588.5 L671.2,586.5 L671.5,584.6 L671.9,582.6 L672.3,580.7 L672.7,578.7 L673.1,576.7 L673.5,574.8 L673.9,572.8 L674.3,570.9 L674.8,568.9 L675.2,567.0 L675.7,565.0 L676.1,563.1 L676.6,561.1 L677.1,559.2 L677.6,557.3 L678.2,555.4 L678.8,553.4 L679.3,551.5 L680.0,549.6 L680.6,547.7 L681.3,545.9 L682.1,544.0 L683.0,542.2 L684.0,540.5 L685.2,538.9 L686.7,537.6 L688.5,537.7 L689.9,539.2 L690.9,540.9 L691.9,542.6 L692.8,544.4 L693.6,546.2 L694.4,548.1 L695.1,549.9 L695.7,551.8 L696.3,553.8 L696.8,555.7 L697.3,557.6 L697.7,559.6 L698.1,561.5 L698.4,563.5 L698.8,565.5 L699.1,567.5 L699.5,569.4 L699.8,571.4 L700.1,573.4 L700.5,575.3 L700.8,577.3 L701.1,579.3 L701.4,581.3 L701.8,583.2 L702.1,585.2 L702.4,587.2 L702.7,589.1 L703.0,591.1 L703.3,593.1 L703.6,595.1 L703.9,597.0 L704.2,599.0 L704.5,601.0 L704.8,603.0 L705.1,605.0 L705.4,606.9 L705.7,608.9 L706.0,610.9 L706.3,612.9 L706.6,614.8 L706.9,616.8 L707.2,618.8 L707.4,620.8 L707.7,622.8 L708.0,624.7 L708.3,626.7 L708.6,628.7 L708.8,630.7 L709.1,632.7 L709.4,634.6 L709.6,636.6 L709.9,638.6 L710.2,640.6 L710.4,642.6 L710.7,644.5 L711.0,646.5 L711.2,648.5 L711.5,650.5 L711.8,652.5 L712.0,654.5 L712.3,656.4 L712.6,658.4 L712.8,660.4 L713.1,662.4 L713.3,664.4 L713.6,666.3 L713.9,668.3 L714.1,670.3 L714.4,672.3 L714.7,674.3 L714.9,676.3 L715.2,678.2 L715.5,680.2 L715.7,682.2 L716.0,684.2 L716.3,686.2 L716.6,688.1 L716.8,690.1 L717.1,692.1 L717.4,694.1 L717.7,696.1 L718.0,698.0 L718.2,700.0 L718.5,702.0 L718.8,704.0 L719.1,705.9 L719.4,707.9 L719.7,709.9 L720.0,711.9 L720.3,713.9 L720.6,715.8 L720.9,717.8 L721.2,719.8 L721.5,721.8 L721.8,723.7 L722.1,725.7 L722.5,727.7 L722.8,729.7 L723.1,731.6 L723.4,733.6 L723.8,735.6 L724.1,737.5 L724.4,739.5 L724.8,741.5 L725.1,743.4 L725.5,745.4 L725.8,747.4 L726.2,749.3 L726.6,751.3 L727.0,753.3 L727.3,755.2 L727.7,757.2 L728.1,759.2 L728.5,761.1 L728.9,763.1 L729.3,765.0 L729.7,767.0 L730.1,769.0 L730.5,770.9 L731.0,772.9 L731.4,774.8 L731.8,776.8 L732.3,778.7 L732.7,780.7 L733.2,782.6 L733.7,784.5 L734.1,786.5 L734.6,788.4 L735.1,790.4 L735.6,792.3 L736.1,794.2 L736.6,796.2 L737.1,798.1 L737.7,800.0 L738.2,802.0 L738.7,803.9 L739.3,805.8 L739.8,807.7 L740.4,809.6 L741.0,811.6 L741.6,813.5 L742.1,815.4 L742.7,817.3 L743.4,819.2 L744.0,821.1 L744.6,823.0 L745.2,824.9 L745.9,826.8 L746.5,828.7 L747.2,830.6 L747.9,832.4 L748.6,834.3 L749.3,836.2 L750.0,838.1 L750.7,839.9 L751.4,841.8 L752.1,843.6 L752.9,845.5 L753.7,847.3 L754.4,849.2 L755.2,851.0 L756.0,852.9 L756.8,854.7 L757.7,856.5 L758.5,858.3 L759.4,860.1 L760.2,861.9 L761.1,863.7 L762.0,865.5 L762.9,867.3 L763.9,869.1 L764.8,870.8 L765.7,872.6 L766.7,874.3 L767.7,876.1 L768.7,877.8 L769.8,879.5 L770.9,881.2 L772.0,882.8 L773.1,884.5 L774.3,886.1 L775.5,887.6 L776.8,889.2 L778.1,890.7 L779.5,892.1 L780.9,893.6 L782.4,894.9 L783.9,896.2 L785.5,897.4 L787.1,898.6 L788.8,899.7 L790.5,900.8 L792.2,901.8 L793.9,902.7 L795.7,903.6 L797.5,904.5 L799.4,905.3 L801.2,906.1 L803.0,906.9 L804.9,907.6 L806.8,908.3 L808.6,909.0 L810.5,909.7 L812.4,910.4 L814.3,911.0 L816.2,911.7 L818.1,912.3 L820.0,912.9 L821.9,913.5 L823.8,914.0 L825.7,914.6 L827.7,915.1 L829.6,915.6 L831.5,916.1 L833.5,916.6 L835.4,917.1 L837.4,917.5 L839.3,918.0 L841.3,918.4 L843.2,918.8 L845.2,919.2 L847.2,919.5 L849.1,919.9 L851.1,920.3 L853.1,920.6 L855.0,920.9 L857.0,921.2 L859.0,921.5 L861.0,921.8 L862.9,922.1 L864.9,922.3 L866.9,922.6 L868.9,922.8 L870.9,923.1 L872.9,923.3 L874.9,923.5 L876.8,923.7 L878.8,923.9 L880.8,924.0 L882.8,924.2 L884.8,924.4 L886.8,924.5 L888.8,924.7 L890.8,924.8 L892.8,924.9 L894.8,925.0 L896.8,925.1 L898.8,925.2 L900.8,925.3 L902.8,925.4 L904.8,925.5 L906.8,925.6 L908.8,925.7 L910.8,925.7 L912.8,925.8 L914.8,925.8 L916.8,925.9 L918.8,926.0 L920.8,926.0 L922.8,926.0 L924.8,926.1 L926.8,926.1 L928.8,926.2 L930.8,926.2 L932.8,926.2 L934.7,926.3 L936.7,926.3 L938.7,926.3 L940.7,926.3 L942.7,926.4 L944.7,926.4 L946.7,926.4 L948.7,926.4 L950.7,926.5 L952.7,926.5 L954.7,926.5 L956.7,926.6 L958.7,926.6 L960.7,926.6 L962.7,926.7 L964.7,926.7 L966.7,926.8 L968.7,926.8 L970.7,926.8 L972.7,926.9 L974.7,927.0 L976.7,927.0 L978.7,927.1 L980.7,927.2 L982.7,927.2 L984.7,927.3 L986.7,927.4 L988.7,927.5 L990.7,927.6 L992.7,927.7 L994.7,927.8 L996.7,927.9 L998.7,928.1 L1000.7,928.2 L1002.7,928.3 L1004.7,928.4 L1006.7,928.5 L1008.7,928.7 L1010.7,928.8 L1012.7,928.9 L1014.7,929.1 L1016.6,929.2 L1018.6,929.4 L1020.6,929.5 L1022.6,929.6 L1024.6,929.8 L1026.6,929.9 L1028.6,930.1 L1030.6,930.2 L1032.6,930.3 L1034.6,930.5 L1036.6,930.6 L1038.6,930.8 L1040.6,930.9 L1042.6,931.0 L1044.6,931.2 L1046.6,931.3 L1048.6,931.4 L1050.5,931.6 L1052.5,931.7 L1054.5,931.8 L1056.5,931.9 L1058.5,932.1 L1060.5,932.2 L1062.5,932.3 L1064.5,932.4 L1066.5,932.5 L1068.5,932.6 L1070.5,932.7 L1072.5,932.8 L1074.5,932.8 L1076.5,932.9 L1078.5,933.0 L1080.5,933.1 L1082.5,933.1 L1084.5,933.2 L1086.5,933.2 L1088.5,933.3 L1090.5,933.3 L1092.5,933.3 L1094.5,933.4 L1096.5,933.4 L1098.5,933.4 L1100.5,933.4 L1102.5,933.4 L1104.5,933.4 L1106.5,933.4 L1108.5,933.4 L1110.5,933.3 L1112.5,933.3 L1114.5,933.2 L1116.5,933.2 L1118.5,933.1 L1120.5,933.1 L1122.5,933.0 L1124.5,932.9 L1126.5,932.8 L1128.5,932.7 L1130.5,932.6 L1132.5,932.5 L1134.5,932.4 L1136.4,932.3 L1138.4,932.1 L1140.4,932.0 L1142.4,931.8 L1144.4,931.7 L1146.4,931.5 L1148.4,931.3 L1150.4,931.2 L1152.4,931.0 L1154.4,930.7 L1156.4,930.5 L1158.3,930.3 L1160.3,930.1 L1162.3,929.8 L1164.3,929.6 L1166.3,929.3 L1168.3,929.1 L1170.2,928.8 L1172.2,928.5 L1174.2,928.2 L1176.2,927.9 L1178.1,927.6 L1180.1,927.3 L1182.1,926.9 L1184.1,926.6 L1186.0,926.3 L1188.0,925.9 L1190.0,925.6 L1191.9,925.3 L1193.9,924.9 L1195.9,924.6 L1197.9,924.2 L1199.8,923.9 L1201.8,923.5 L1203.8,923.2 L1205.7,922.9 L1207.7,922.5 L1209.7,922.2 L1211.6,921.8 L1213.6,921.5 L1215.6,921.2 L1217.6,920.8 L1219.5,920.5 L1221.5,920.2 L1223.5,919.9 L1225.5,919.6 L1227.4,919.3 L1229.4,919.0 L1231.4,918.8 L1233.4,918.5 L1235.4,918.2 L1237.3,918.0 L1239.3,917.8 L1241.3,917.5 L1243.3,917.3 L1245.3,917.1 L1247.3,916.9 L1249.3,916.8 L1251.3,916.6 L1253.3,916.5 L1255.3,916.3 L1257.3,916.2 L1259.3,916.1 L1261.2,916.1 L1263.2,916.0 L1265.2,916.0 L1267.2,916.0 L1269.2,915.9 L1271.2,916.0 L1273.2,916.0 L1275.2,916.0 L1277.2,916.1 L1279.2,916.1 L1281.2,916.2 L1283.2,916.3 L1285.2,916.4 L1287.2,916.5 L1289.2,916.6 L1291.2,916.8 L1293.2,916.9 L1295.2,917.1 L1297.2,917.2 L1299.2,917.4 L1301.2,917.6 L1303.2,917.8 L1305.2,918.0 L1307.1,918.2 L1309.1,918.4 L1311.1,918.6 L1313.1,918.8 L1315.1,919.1 L1317.1,919.3 L1319.1,919.5 L1321.0,919.8 L1323.0,920.0 L1325.0,920.3 L1327.0,920.5 L1329.0,920.8 L1331.0,921.0 L1333.0,921.3 L1334.9,921.5 L1336.9,921.8 L1338.9,922.0 L1340.9,922.3 L1342.9,922.6 L1344.8,922.8 L1346.8,923.1 L1348.8,923.4 L1350.8,923.6 L1352.8,923.9 L1354.7,924.2 L1356.7,924.4 L1358.7,924.7 L1360.7,925.0 L1362.7,925.3 L1364.7,925.5 L1366.6,925.8 L1368.6,926.1 L1370.6,926.3 L1372.6,926.6 L1374.6,926.9 L1376.5,927.1 L1378.5,927.4 L1380.5,927.7 L1382.5,927.9 L1384.5,928.2 L1386.4,928.5 L1388.4,928.7 L1390.4,929.0 L1392.4,929.2 L1394.4,929.5 L1396.4,929.7 L1398.3,930.0 L1400.3,930.2 L1402.3,930.5 L1404.3,930.7 L1406.3,930.9 L1408.3,931.2 L1410.3,931.4 L1412.2,931.6 L1414.2,931.8 L1416.2,932.0 L1418.2,932.3 L1420.2,932.5 L1422.2,932.7 L1424.2,932.9 L1426.2,933.1 L1428.1,933.3 L1430.1,933.5 L1432.1,933.6 L1434.1,933.8 L1436.1,934.0 L1438.1,934.2 L1440.1,934.4 L1442.1,934.5 L1444.1,934.7 L1446.1,934.9 L1448.1,935.0 L1450.1,935.2 L1452.0,935.3 L1454.0,935.5 L1456.0,935.6 L1458.0,935.8 L1460.0,935.9 L1462.0,936.1 L1464.0,936.2 L1466.0,936.4 L1468.0,936.5 L1470.0,936.6 L1472.0,936.8 L1474.0,936.9 L1476.0,937.0 L1478.0,937.1 L1480.0,937.2 L1482.0,937.4 L1484.0,937.5 L1486.0,937.6 L1488.0,937.7 L1489.9,937.8 L1491.9,937.9 L1493.9,938.0 L1495.9,938.1 L1497.9,938.2 L1499.9,938.3 L1501.9,938.4 L1503.9,938.5 L1505.9,938.6 L1507.9,938.7 L1509.9,938.8 L1511.9,938.9 L1513.9,939.0 L1515.9,939.1 L1517.9,939.1 L1519.9,939.2 L1521.9,939.3 L1523.9,939.4 L1525.9,939.5 L1527.9,939.5 L1529.9,939.6 L1531.9,939.7 L1533.9,939.8 L1535.9,939.8 L1537.9,939.9 L1539.9,940.0 L1541.9,940.0 L1543.9,940.1 L1545.9,940.1 L1547.9,940.2 L1549.9,940.3 L1551.9,940.3 L1553.9,940.4 L1555.9,940.4 L1557.9,940.5 L1559.9,940.5 L1561.9,940.6 L1563.9,940.6 L1565.9,940.7 L1567.9,940.7 L1569.9,940.7 L1571.9,940.8 L1573.9,940.8 L1575.9,940.8 L1577.9,940.9 L1579.9,940.9 L1581.9,940.9 L1583.8,941.0 L1585.8,941.0 L1587.8,941.0 L1589.8,941.0 L1591.8,941.1 L1593.8,941.1 L1595.8,941.1 L1597.8,941.1 L1599.8,941.1 L1601.8,941.2 L1603.8,941.2 L1605.8,941.2 L1607.8,941.2 L1609.8,941.2 L1611.8,941.2 L1613.8,941.2 L1615.8,941.2 L1617.8,941.2 L1619.8,941.2 L1621.8,941.2 L1623.8,941.2 L1625.8,941.2 L1627.8,941.2 L1629.8,941.2 L1631.8,941.2 L1633.8,941.2 L1635.8,941.2 L1637.8,941.1 L1639.8,941.1 L1641.8,941.1 L1643.8,941.1 L1645.8,941.1 L1647.8,941.0 L1649.8,941.0 L1651.8,941.0 L1653.8,941.0 L1655.8,940.9 L1657.8,940.9 L1659.8,940.9 L1661.8,940.8 L1663.8,940.8 L1665.8,940.8 L1667.8,940.7 L1669.8,940.7 L1671.8,940.6 L1673.8,940.6 L1675.8,940.5 L1677.8,940.5 L1679.8,940.4 L1681.8,940.4 L1683.8,940.3 L1685.8,940.3 L1687.8,940.2 L1689.8,940.2 L1691.8,940.1 L1693.8,940.1 L1695.8,940.0 L1697.8,939.9 L1699.8,939.9 L1701.8,939.8 L1703.8,939.7 L1705.8,939.7 L1707.8,939.6 L1709.8,939.5 L1711.8,939.5 L1713.8,939.4 L1715.8,939.3 L1717.8,939.2 L1719.8,939.1 L1721.8,939.1 L1723.8,939.0 L1725.8,938.9 L1727.8,938.8 L1729.7,938.7 L1731.7,938.6 L1733.7,938.5 L1735.7,938.4 L1737.7,938.3 L1739.7,938.2 L1741.7,938.1 L1743.7,938.0 L1745.7,937.9 L1747.7,937.8 L1749.7,937.7 L1751.7,937.6 L1753.7,937.5 L1755.7,937.4 L1757.7,937.3 L1759.7,937.2 L1761.7,937.1 L1763.7,937.0 L1765.7,936.8 L1767.7,936.7 L1769.7,936.6 L1771.7,936.5 L1773.7,936.4 L1775.7,936.2 L1777.7,936.1 L1779.7,936.0 L1781.6,935.9 L1783.6,935.7 L1785.6,935.6 L1787.6,935.5 L1789.6,935.3 L1791.6,935.2 L1793.6,935.0 L1795.6,934.9 L1797.6,934.8 L1799.6,934.6 L1801.6,934.5" fill="none" stroke="#000" stroke-width="8.6" stroke-linejoin="round" stroke-linecap="butt"/>
<path d="M154.2,1394.3 L156.2,1394.5 L158.2,1394.8 L160.2,1395.0 L162.1,1395.2 L164.1,1395.4 L166.1,1395.6 L168.1,1395.8 L170.1,1396.0 L172.1,1396.2 L174.1,1396.4 L176.1,1396.6 L178.1,1396.8 L180.1,1397.0 L182.0,1397.2 L184.0,1397.4 L186.0,1397.5 L188.0,1397.7 L190.0,1397.9 L192.0,1398.0 L194.0,1398.2 L196.0,1398.3 L198.0,1398.5 L200.0,1398.6 L202.0,1398.8 L204.0,1398.9 L206.0,1399.0 L208.0,1399.1 L210.0,1399.3 L212.0,1399.4 L213.9,1399.5 L215.9,1399.6 L217.9,1399.7 L219.9,1399.9 L221.9,1400.0 L223.9,1400.1 L225.9,1400.2 L227.9,1400.3 L229.9,1400.3 L231.9,1400.4 L233.9,1400.5 L235.9,1400.6 L237.9,1400.7 L239.9,1400.8 L241.9,1400.8 L243.9,1400.9 L245.9,1401.0 L247.9,1401.0 L249.9,1401.1 L251.9,1401.2 L253.9,1401.2 L255.9,1401.3 L257.9,1401.3 L259.9,1401.4 L261.9,1401.4 L263.9,1401.5 L265.9,1401.5 L267.9,1401.6 L269.9,1401.6 L271.9,1401.6 L273.9,1401.7 L275.9,1401.7 L277.9,1401.7 L279.9,1401.8 L281.9,1401.8 L283.9,1401.8 L285.9,1401.9 L287.9,1401.9 L289.9,1401.9 L291.9,1401.9 L293.9,1401.9 L295.9,1401.9 L297.9,1402.0 L299.9,1402.0 L301.9,1402.0 L303.9,1402.0 L305.9,1402.0 L307.9,1402.0 L309.9,1402.0 L311.9,1402.0 L313.9,1402.0 L315.9,1402.0 L317.9,1402.0 L319.9,1402.0 L321.9,1402.0 L323.9,1402.0 L325.9,1402.0 L327.9,1402.0 L329.9,1402.0 L331.9,1402.0 L333.9,1402.0 L335.9,1402.0 L337.9,1402.0 L339.9,1402.0 L341.9,1401.9 L343.9,1401.9 L345.9,1401.9 L347.9,1401.9 L349.9,1401.9 L351.9,1401.9 L353.9,1401.9 L355.9,1401.9 L357.9,1401.8 L359.9,1401.8 L361.9,1401.8 L363.9,1401.8 L365.9,1401.8 L367.9,1401.8 L369.9,1401.8 L371.9,1401.7 L373.9,1401.7 L375.9,1401.7 L377.9,1401.7 L379.9,1401.7 L381.9,1401.7 L383.9,1401.7 L385.9,1401.7 L387.9,1401.6 L389.9,1401.6 L391.9,1401.6 L393.8,1401.6 L395.8,1401.6 L397.8,1401.6 L399.8,1401.6 L401.8,1401.6 L403.8,1401.6 L405.8,1401.5 L407.8,1401.5 L409.8,1401.5 L411.8,1401.5 L413.8,1401.5 L415.8,1401.5 L417.8,1401.5 L419.8,1401.5 L421.8,1401.5 L423.8,1401.4 L425.8,1401.4 L427.8,1401.4 L429.8,1401.4 L431.8,1401.4 L433.8,1401.4 L435.8,1401.3 L437.8,1401.3 L439.8,1401.3 L441.8,1401.3 L443.8,1401.2 L445.8,1401.2 L447.8,1401.2 L449.8,1401.1 L451.8,1401.1 L453.8,1401.1 L455.8,1401.0 L457.8,1401.0 L459.8,1401.0 L461.8,1400.9 L463.8,1400.9 L465.8,1400.8 L467.8,1400.8 L469.8,1400.7 L471.8,1400.6 L473.8,1400.6 L475.8,1400.5 L477.8,1400.5 L479.8,1400.4 L481.8,1400.3 L483.8,1400.2 L485.8,1400.2 L487.8,1400.1 L489.8,1400.0 L491.8,1399.9 L493.8,1399.8 L495.8,1399.7 L497.8,1399.6 L499.8,1399.5 L501.8,1399.4 L503.8,1399.3 L505.8,1399.1 L507.8,1399.0 L509.8,1398.9 L511.8,1398.8 L513.8,1398.6 L515.7,1398.5 L517.7,1398.3 L519.7,1398.2 L521.7,1398.0 L523.7,1397.9 L525.7,1397.7 L527.7,1397.5 L529.7,1397.4 L531.7,1397.2 L533.7,1397.0 L535.7,1396.8 L537.7,1396.6 L539.6,1396.4 L541.6,1396.2 L543.6,1395.9 L545.6,1395.7 L547.6,1395.4 L549.6,1395.1 L551.5,1394.9 L553.5,1394.5 L555.5,1394.2 L557.5,1393.9 L559.4,1393.5 L561.4,1393.1 L563.3,1392.7 L565.3,1392.3 L567.2,1391.8 L569.2,1391.3 L571.1,1390.8 L573.0,1390.2 L574.9,1389.7 L576.9,1389.1 L578.8,1388.4 L580.6,1387.8 L582.5,1387.1 L584.4,1386.4 L586.2,1385.6 L588.1,1384.8 L589.9,1384.0 L591.7,1383.2 L593.5,1382.3 L595.3,1381.4 L597.1,1380.5 L598.8,1379.5 L600.6,1378.5 L602.3,1377.5 L604.0,1376.4 L605.6,1375.3 L607.3,1374.2 L608.9,1373.0 L610.5,1371.9 L612.1,1370.6 L613.7,1369.4 L615.2,1368.1 L616.7,1366.7 L618.1,1365.4 L619.6,1364.0 L621.0,1362.6 L622.3,1361.1 L623.7,1359.6 L625.0,1358.1 L626.3,1356.6 L627.5,1355.0 L628.7,1353.4 L629.8,1351.8 L631.0,1350.1 L632.0,1348.4 L633.1,1346.7 L634.1,1345.0 L635.1,1343.2 L636.0,1341.5 L636.9,1339.7 L637.7,1337.9 L638.5,1336.0 L639.3,1334.2 L640.0,1332.3 L640.6,1330.4 L641.3,1328.5 L641.9,1326.6 L642.4,1324.7 L643.0,1322.8 L643.5,1320.8 L643.9,1318.9 L644.4,1316.9 L644.8,1315.0 L645.2,1313.0 L645.5,1311.1 L645.9,1309.1 L646.2,1307.1 L646.5,1305.1 L646.8,1303.2 L647.1,1301.2 L647.3,1299.2 L647.6,1297.2 L647.8,1295.2 L648.1,1293.2 L648.3,1291.3 L648.5,1289.3 L648.7,1287.3 L649.0,1285.3 L649.2,1283.3 L649.4,1281.3 L649.7,1279.3 L649.9,1277.3 L650.1,1275.4 L650.4,1273.4 L650.6,1271.4 L650.8,1269.4 L651.1,1267.4 L651.3,1265.4 L651.6,1263.5 L651.8,1261.5 L652.1,1259.5 L652.3,1257.5 L652.5,1255.5 L652.8,1253.5 L653.0,1251.5 L653.2,1249.6 L653.5,1247.6 L653.7,1245.6 L654.0,1243.6 L654.2,1241.6 L654.4,1239.6 L654.6,1237.6 L654.9,1235.7 L655.1,1233.7 L655.3,1231.7 L655.5,1229.7 L655.7,1227.7 L655.9,1225.7 L656.2,1223.7 L656.4,1221.7 L656.6,1219.8 L656.8,1217.8 L657.0,1215.8 L657.2,1213.8 L657.4,1211.8 L657.6,1209.8 L657.8,1207.8 L658.0,1205.8 L658.2,1203.8 L658.4,1201.8 L658.6,1199.9 L658.8,1197.9 L659.0,1195.9 L659.2,1193.9 L659.3,1191.9 L659.5,1189.9 L659.7,1187.9 L659.9,1185.9 L660.1,1183.9 L660.3,1181.9 L660.5,1180.0 L660.7,1178.0 L660.9,1176.0 L661.1,1174.0 L661.2,1172.0 L661.4,1170.0 L661.6,1168.0 L661.8,1166.0 L662.0,1164.0 L662.2,1162.0 L662.4,1160.1 L662.5,1158.1 L662.7,1156.1 L662.9,1154.1 L663.1,1152.1 L663.3,1150.1 L663.5,1148.1 L663.7,1146.1 L663.9,1144.1 L664.1,1142.1 L664.3,1140.1 L664.4,1138.2 L664.6,1136.2 L664.8,1134.2 L665.0,1132.2 L665.2,1130.2 L665.4,1128.2 L665.6,1126.2 L665.8,1124.2 L666.0,1122.2 L666.2,1120.2 L666.4,1118.3 L666.6,1116.3 L666.8,1114.3 L667.0,1112.3 L667.3,1110.3 L667.5,1108.3 L667.7,1106.3 L667.9,1104.3 L668.1,1102.4 L668.3,1100.4 L668.5,1098.4 L668.8,1096.4 L669.0,1094.4 L669.2,1092.4 L669.5,1090.4 L669.7,1088.4 L669.9,1086.5 L670.2,1084.5 L670.4,1082.5 L670.6,1080.5 L670.9,1078.5 L671.1,1076.5 L671.4,1074.6 L671.6,1072.6 L671.9,1070.6 L672.1,1068.6 L672.4,1066.6 L672.7,1064.6 L672.9,1062.7 L673.2,1060.7 L673.5,1058.7 L673.7,1056.7 L674.0,1054.7 L674.3,1052.8 L674.6,1050.8 L674.9,1048.8 L675.2,1046.8 L675.5,1044.8 L675.7,1042.9 L676.1,1040.9 L676.4,1038.9 L676.7,1036.9 L677.0,1035.0 L677.3,1033.0 L677.6,1031.0 L677.9,1029.0 L678.3,1027.1 L678.6,1025.1 L678.9,1023.1 L679.3,1021.2 L679.6,1019.2 L680.0,1017.2 L680.3,1015.3 L680.7,1013.3 L681.0,1011.3 L681.4,1009.3 L681.7,1007.4 L682.1,1005.4 L682.4,1003.4 L682.8,1001.5 L683.1,999.5 L683.4,997.5 L683.8,995.6 L684.1,993.6 L684.4,991.6 L684.7,989.6 L685.0,987.7 L685.3,985.7 L685.6,983.7 L685.9,981.7 L686.2,979.7 L686.4,977.8 L686.7,975.8 L686.9,973.8 L687.2,971.8 L687.5,969.8 L687.8,967.9 L688.2,965.9 L688.7,964.0 L689.3,962.1 L690.1,960.2 L691.0,958.4 L692.0,956.7 L693.2,955.1 L694.6,953.7 L696.5,953.0 L698.3,953.8 L699.7,955.2 L700.8,956.9 L701.6,958.7 L702.3,960.6 L702.7,962.5 L703.1,964.5 L703.4,966.5 L703.8,968.5 L704.1,970.4 L704.5,972.4 L704.9,974.3 L705.3,976.3 L705.6,978.3 L706.0,980.2 L706.3,982.2 L706.7,984.2 L707.0,986.2 L707.3,988.1 L707.6,990.1 L707.9,992.1 L708.2,994.1 L708.5,996.0 L708.8,998.0 L709.1,1000.0 L709.3,1002.0 L709.6,1004.0 L709.9,1005.9 L710.2,1007.9 L710.4,1009.9 L710.7,1011.9 L711.0,1013.9 L711.2,1015.8 L711.5,1017.8 L711.8,1019.8 L712.0,1021.8 L712.3,1023.8 L712.6,1025.8 L712.8,1027.7 L713.1,1029.7 L713.3,1031.7 L713.6,1033.7 L713.9,1035.7 L714.1,1037.6 L714.4,1039.6 L714.7,1041.6 L714.9,1043.6 L715.2,1045.6 L715.4,1047.6 L715.7,1049.5 L715.9,1051.5 L716.2,1053.5 L716.5,1055.5 L716.7,1057.5 L717.0,1059.5 L717.2,1061.4 L717.5,1063.4 L717.7,1065.4 L718.0,1067.4 L718.3,1069.4 L718.5,1071.4 L718.8,1073.3 L719.0,1075.3 L719.3,1077.3 L719.5,1079.3 L719.8,1081.3 L720.0,1083.3 L720.3,1085.2 L720.5,1087.2 L720.8,1089.2 L721.1,1091.2 L721.3,1093.2 L721.6,1095.2 L721.8,1097.1 L722.1,1099.1 L722.3,1101.1 L722.6,1103.1 L722.8,1105.1 L723.1,1107.1 L723.3,1109.0 L723.6,1111.0 L723.8,1113.0 L724.1,1115.0 L724.3,1117.0 L724.6,1118.9 L724.9,1120.9 L725.1,1122.9 L725.4,1124.9 L725.6,1126.9 L725.9,1128.9 L726.1,1130.8 L726.4,1132.8 L726.7,1134.8 L726.9,1136.8 L727.2,1138.8 L727.5,1140.8 L727.7,1142.7 L728.0,1144.7 L728.3,1146.7 L728.6,1148.7 L728.8,1150.7 L729.1,1152.6 L729.4,1154.6 L729.7,1156.6 L730.0,1158.6 L730.2,1160.6 L730.5,1162.5 L730.8,1164.5 L731.1,1166.5 L731.4,1168.5 L731.7,1170.4 L732.0,1172.4 L732.3,1174.4 L732.6,1176.4 L732.9,1178.3 L733.3,1180.3 L733.6,1182.3 L733.9,1184.3 L734.2,1186.2 L734.6,1188.2 L734.9,1190.2 L735.2,1192.2 L735.6,1194.1 L735.9,1196.1 L736.3,1198.1 L736.6,1200.0 L737.0,1202.0 L737.3,1204.0 L737.7,1205.9 L738.1,1207.9 L738.4,1209.9 L738.8,1211.8 L739.2,1213.8 L739.6,1215.7 L740.0,1217.7 L740.4,1219.7 L740.8,1221.6 L741.2,1223.6 L741.6,1225.5 L742.0,1227.5 L742.5,1229.4 L742.9,1231.4 L743.3,1233.4 L743.8,1235.3 L744.2,1237.3 L744.7,1239.2 L745.1,1241.1 L745.6,1243.1 L746.0,1245.0 L746.5,1247.0 L747.0,1248.9 L747.5,1250.9 L748.0,1252.8 L748.4,1254.7 L748.9,1256.7 L749.4,1258.6 L750.0,1260.5 L750.5,1262.5 L751.0,1264.4 L751.5,1266.3 L752.1,1268.3 L752.6,1270.2 L753.2,1272.1 L753.7,1274.0 L754.3,1275.9 L754.9,1277.9 L755.5,1279.8 L756.1,1281.7 L756.7,1283.6 L757.3,1285.5 L758.0,1287.4 L758.6,1289.2 L759.3,1291.1 L760.0,1293.0 L760.7,1294.9 L761.4,1296.8 L762.1,1298.6 L762.9,1300.5 L763.6,1302.3 L764.4,1304.2 L765.2,1306.0 L766.0,1307.8 L766.8,1309.6 L767.7,1311.4 L768.6,1313.2 L769.5,1315.0 L770.4,1316.8 L771.3,1318.6 L772.3,1320.3 L773.2,1322.1 L774.2,1323.8 L775.3,1325.5 L776.3,1327.2 L777.4,1328.9 L778.5,1330.6 L779.7,1332.2 L780.8,1333.8 L782.1,1335.4 L783.3,1337.0 L784.6,1338.5 L785.9,1340.0 L787.2,1341.5 L788.6,1343.0 L790.0,1344.4 L791.4,1345.8 L792.9,1347.1 L794.4,1348.4 L796.0,1349.7 L797.6,1350.9 L799.2,1352.1 L800.9,1353.2 L802.5,1354.3 L804.3,1355.3 L806.0,1356.3 L807.8,1357.2 L809.6,1358.1 L811.4,1358.9 L813.2,1359.8 L815.0,1360.5 L816.9,1361.3 L818.7,1362.0 L820.6,1362.7 L822.5,1363.4 L824.4,1364.0 L826.3,1364.6 L828.2,1365.2 L830.1,1365.8 L832.0,1366.4 L834.0,1366.9 L835.9,1367.4 L837.8,1367.9 L839.8,1368.4 L841.7,1368.9 L843.6,1369.4 L845.6,1369.9 L847.5,1370.3 L849.5,1370.8 L851.4,1371.2 L853.4,1371.6 L855.3,1372.0 L857.3,1372.5 L859.3,1372.9 L861.2,1373.2 L863.2,1373.6 L865.2,1374.0 L867.1,1374.3 L869.1,1374.7 L871.1,1375.0 L873.0,1375.4 L875.0,1375.7 L877.0,1376.0 L879.0,1376.3 L880.9,1376.6 L882.9,1376.9 L884.9,1377.2 L886.9,1377.5 L888.9,1377.7 L890.8,1378.0 L892.8,1378.2 L894.8,1378.5 L896.8,1378.7 L898.8,1379.0 L900.8,1379.2 L902.7,1379.4 L904.7,1379.7 L906.7,1379.9 L908.7,1380.1 L910.7,1380.3 L912.7,1380.5 L914.7,1380.7 L916.7,1380.9 L918.7,1381.1 L920.6,1381.2 L922.6,1381.4 L924.6,1381.6 L926.6,1381.8 L928.6,1381.9 L930.6,1382.1 L932.6,1382.3 L934.6,1382.4 L936.6,1382.6 L938.6,1382.7 L940.6,1382.9 L942.6,1383.0 L944.6,1383.2 L946.6,1383.3 L948.5,1383.5 L950.5,1383.6 L952.5,1383.8 L954.5,1383.9 L956.5,1384.0 L958.5,1384.2 L960.5,1384.3 L962.5,1384.5 L964.5,1384.6 L966.5,1384.7 L968.5,1384.8 L970.5,1385.0 L972.5,1385.1 L974.5,1385.2 L976.5,1385.3 L978.5,1385.5 L980.5,1385.6 L982.5,1385.7 L984.5,1385.8 L986.5,1385.9 L988.5,1386.0 L990.5,1386.1 L992.4,1386.3 L994.4,1386.4 L996.4,1386.5 L998.4,1386.6 L1000.4,1386.7 L1002.4,1386.8 L1004.4,1386.9 L1006.4,1387.0 L1008.4,1387.1 L1010.4,1387.2 L1012.4,1387.3 L1014.4,1387.4 L1016.4,1387.5 L1018.4,1387.6 L1020.4,1387.7 L1022.4,1387.8 L1024.4,1387.9 L1026.4,1388.0 L1028.4,1388.1 L1030.4,1388.2 L1032.4,1388.2 L1034.4,1388.3 L1036.4,1388.4 L1038.4,1388.5 L1040.4,1388.6 L1042.4,1388.7 L1044.4,1388.8 L1046.4,1388.9 L1048.4,1389.0 L1050.4,1389.0 L1052.4,1389.1 L1054.4,1389.2 L1056.4,1389.3 L1058.4,1389.4 L1060.4,1389.5 L1062.3,1389.5 L1064.3,1389.6 L1066.3,1389.7 L1068.3,1389.8 L1070.3,1389.9 L1072.3,1390.0 L1074.3,1390.1 L1076.3,1390.1 L1078.3,1390.2 L1080.3,1390.3 L1082.3,1390.4 L1084.3,1390.4 L1086.3,1390.5 L1088.3,1390.6 L1090.3,1390.7 L1092.3,1390.7 L1094.3,1390.8 L1096.3,1390.9 L1098.3,1390.9 L1100.3,1391.0 L1102.3,1391.0 L1104.3,1391.1 L1106.3,1391.2 L1108.3,1391.2 L1110.3,1391.2 L1112.3,1391.3 L1114.3,1391.3 L1116.3,1391.4 L1118.3,1391.4 L1120.3,1391.4 L1122.3,1391.4 L1124.3,1391.4 L1126.3,1391.4 L1128.3,1391.5 L1130.3,1391.5 L1132.3,1391.5 L1134.3,1391.4 L1136.3,1391.4 L1138.3,1391.4 L1140.3,1391.4 L1142.3,1391.3 L1144.3,1391.3 L1146.3,1391.3 L1148.3,1391.2 L1150.3,1391.1 L1152.3,1391.1 L1154.3,1391.0 L1156.3,1390.9 L1158.3,1390.8 L1160.3,1390.8 L1162.3,1390.7 L1164.3,1390.5 L1166.3,1390.4 L1168.3,1390.3 L1170.3,1390.2 L1172.3,1390.0 L1174.2,1389.9 L1176.2,1389.7 L1178.2,1389.6 L1180.2,1389.4 L1182.2,1389.3 L1184.2,1389.1 L1186.2,1389.0 L1188.2,1388.8 L1190.2,1388.7 L1192.2,1388.5 L1194.2,1388.4 L1196.2,1388.2 L1198.2,1388.1 L1200.2,1387.9 L1202.2,1387.8 L1204.2,1387.7 L1206.2,1387.6 L1208.1,1387.5 L1210.1,1387.4 L1212.1,1387.3 L1214.1,1387.2 L1216.1,1387.1 L1218.1,1387.0 L1220.1,1386.9 L1222.1,1386.8 L1224.1,1386.8 L1226.1,1386.7 L1228.1,1386.7 L1230.1,1386.6 L1232.1,1386.6 L1234.1,1386.5 L1236.1,1386.5 L1238.1,1386.5 L1240.1,1386.5 L1242.1,1386.5 L1244.1,1386.5 L1246.1,1386.5 L1248.1,1386.5 L1250.1,1386.5 L1252.1,1386.5 L1254.1,1386.5 L1256.1,1386.6 L1258.1,1386.6 L1260.1,1386.6 L1262.1,1386.7 L1264.1,1386.7 L1266.1,1386.8 L1268.1,1386.9 L1270.1,1387.0 L1272.1,1387.0 L1274.1,1387.1 L1276.1,1387.2 L1278.1,1387.3 L1280.1,1387.4 L1282.1,1387.5 L1284.1,1387.6 L1286.1,1387.7 L1288.1,1387.8 L1290.1,1387.9 L1292.1,1388.1 L1294.1,1388.2 L1296.1,1388.3 L1298.1,1388.4 L1300.1,1388.6 L1302.0,1388.7 L1304.0,1388.8 L1306.0,1389.0 L1308.0,1389.1 L1310.0,1389.3 L1312.0,1389.4 L1314.0,1389.5 L1316.0,1389.7 L1318.0,1389.8 L1320.0,1390.0 L1322.0,1390.1 L1324.0,1390.3 L1326.0,1390.4 L1328.0,1390.6 L1330.0,1390.7 L1332.0,1390.8 L1334.0,1391.0 L1335.9,1391.1 L1337.9,1391.3 L1339.9,1391.4 L1341.9,1391.5 L1343.9,1391.7 L1345.9,1391.8 L1347.9,1391.9 L1349.9,1392.1 L1351.9,1392.2 L1353.9,1392.3 L1355.9,1392.4 L1357.9,1392.6 L1359.9,1392.7 L1361.9,1392.8 L1363.9,1392.9 L1365.9,1393.0 L1367.9,1393.2 L1369.9,1393.3 L1371.9,1393.4 L1373.9,1393.5 L1375.9,1393.6 L1377.9,1393.7 L1379.9,1393.8 L1381.9,1393.9 L1383.8,1394.0 L1385.8,1394.1 L1387.8,1394.2 L1389.8,1394.3 L1391.8,1394.4 L1393.8,1394.5 L1395.8,1394.6 L1397.8,1394.7 L1399.8,1394.8 L1401.8,1394.9 L1403.8,1395.0 L1405.8,1395.1 L1407.8,1395.2 L1409.8,1395.2 L1411.8,1395.3 L1413.8,1395.4 L1415.8,1395.5 L1417.8,1395.6 L1419.8,1395.6 L1421.8,1395.7 L1423.8,1395.8 L1425.8,1395.9 L1427.8,1396.0 L1429.8,1396.0 L1431.8,1396.1 L1433.8,1396.2 L1435.8,1396.2 L1437.8,1396.3 L1439.8,1396.4 L1441.8,1396.5 L1443.8,1396.5 L1445.8,1396.6 L1447.8,1396.7 L1449.8,1396.7 L1451.8,1396.8 L1453.8,1396.8 L1455.8,1396.9 L1457.8,1397.0 L1459.8,1397.0 L1461.8,1397.1 L1463.8,1397.1 L1465.8,1397.2 L1467.8,1397.3 L1469.8,1397.3 L1471.8,1397.4 L1473.8,1397.4 L1475.8,1397.5 L1477.8,1397.5 L1479.7,1397.6 L1481.7,1397.6 L1483.7,1397.7 L1485.7,1397.7 L1487.7,1397.8 L1489.7,1397.8 L1491.7,1397.9 L1493.7,1397.9 L1495.7,1398.0 L1497.7,1398.0 L1499.7,1398.1 L1501.7,1398.1 L1503.7,1398.2 L1505.7,1398.2 L1507.7,1398.3 L1509.7,1398.3 L1511.7,1398.3 L1513.7,1398.4 L1515.7,1398.4 L1517.7,1398.5 L1519.7,1398.5 L1521.7,1398.5 L1523.7,1398.6 L1525.7,1398.6 L1527.7,1398.7 L1529.7,1398.7 L1531.7,1398.7 L1533.7,1398.8 L1535.7,1398.8 L1537.7,1398.9 L1539.7,1398.9 L1541.7,1398.9 L1543.7,1399.0 L1545.7,1399.0 L1547.7,1399.0 L1549.7,1399.1 L1551.7,1399.1 L1553.7,1399.2 L1555.7,1399.2 L1557.7,1399.2 L1559.7,1399.3 L1561.7,1399.3 L1563.7,1399.3 L1565.7,1399.4 L1567.7,1399.4 L1569.7,1399.4 L1571.7,1399.5 L1573.7,1399.5 L1575.7,1399.5 L1577.7,1399.6 L1579.7,1399.6 L1581.7,1399.7 L1583.7,1399.7 L1585.7,1399.7 L1587.7,1399.8 L1589.7,1399.8 L1591.7,1399.8 L1593.7,1399.9 L1595.7,1399.9 L1597.7,1399.9 L1599.7,1400.0 L1601.7,1400.0 L1603.7,1400.0 L1605.7,1400.1 L1607.7,1400.1 L1609.7,1400.1 L1611.7,1400.2 L1613.7,1400.2 L1615.7,1400.2 L1617.7,1400.3 L1619.7,1400.3 L1621.7,1400.3 L1623.7,1400.4 L1625.7,1400.4 L1627.7,1400.4 L1629.7,1400.4 L1631.7,1400.5 L1633.7,1400.5 L1635.7,1400.5 L1637.7,1400.6 L1639.7,1400.6 L1641.7,1400.6 L1643.7,1400.6 L1645.7,1400.7 L1647.7,1400.7 L1649.7,1400.7 L1651.7,1400.7 L1653.7,1400.8 L1655.7,1400.8 L1657.7,1400.8 L1659.7,1400.8 L1661.7,1400.8 L1663.7,1400.9 L1665.7,1400.9 L1667.7,1400.9 L1669.7,1400.9 L1671.7,1400.9 L1673.7,1400.9 L1675.7,1400.9 L1677.7,1401.0 L1679.7,1401.0 L1681.7,1401.0 L1683.7,1401.0 L1685.7,1401.0 L1687.7,1401.0 L1689.7,1401.0 L1691.7,1401.0 L1693.7,1401.0 L1695.7,1401.0 L1697.7,1401.0 L1699.7,1401.0 L1701.7,1401.0 L1703.7,1401.0 L1705.7,1401.0 L1707.7,1401.0 L1709.7,1401.0 L1711.7,1401.0 L1713.6,1401.0 L1715.6,1401.0 L1717.6,1401.0 L1719.6,1401.0 L1721.6,1401.0 L1723.6,1400.9 L1725.6,1400.9 L1727.6,1400.9 L1729.6,1400.9 L1731.6,1400.9 L1733.6,1400.9 L1735.6,1400.8 L1737.6,1400.8 L1739.6,1400.8 L1741.6,1400.8 L1743.6,1400.7 L1745.6,1400.7 L1747.6,1400.7 L1749.6,1400.6 L1751.6,1400.6 L1753.6,1400.6 L1755.6,1400.5 L1757.6,1400.5 L1759.6,1400.5 L1761.6,1400.4 L1763.6,1400.4 L1765.6,1400.3 L1767.6,1400.3 L1769.6,1400.2 L1771.6,1400.2 L1773.6,1400.1 L1775.6,1400.1 L1777.6,1400.0 L1779.6,1400.0 L1781.6,1399.9 L1783.6,1399.8 L1785.6,1399.8 L1787.6,1399.7 L1789.6,1399.6 L1791.6,1399.6 L1793.6,1399.5 L1795.6,1399.4 L1797.6,1399.3 L1799.6,1399.3 L1801.6,1399.2" fill="none" stroke="#000" stroke-width="8.6" stroke-linejoin="round" stroke-linecap="butt"/>
<path d="M154.2,467.3 L156.2,467.3 L158.2,467.4 L160.2,467.4 L162.2,467.4 L164.2,467.5 L166.2,467.5 L168.2,467.5 L170.2,467.6 L172.2,467.6 L174.2,467.6 L176.2,467.7 L178.2,467.7 L180.2,467.7 L182.2,467.7 L184.2,467.8 L186.2,467.8 L188.2,467.8 L190.2,467.9 L192.2,467.9 L194.2,467.9 L196.2,467.9 L198.2,468.0 L200.2,468.0 L202.2,468.0 L204.2,468.0 L206.2,468.0 L208.2,468.1 L210.2,468.1 L212.2,468.1 L214.2,468.1 L216.2,468.1 L218.2,468.2 L220.2,468.2 L222.2,468.2 L224.2,468.2 L226.2,468.2 L228.2,468.3 L230.2,468.3 L232.2,468.3 L234.2,468.3 L236.2,468.3 L238.2,468.3 L240.2,468.3 L242.2,468.4 L244.2,468.4 L246.2,468.4 L248.2,468.4 L250.2,468.4 L252.2,468.4 L254.2,468.4 L256.2,468.4 L258.2,468.4 L260.2,468.5 L262.2,468.5 L264.2,468.5 L266.2,468.5 L268.2,468.5 L270.2,468.5 L272.2,468.5 L274.2,468.5 L276.2,468.5 L278.2,468.5 L280.2,468.5 L282.2,468.5 L284.2,468.5 L286.2,468.5 L288.2,468.5 L290.2,468.5 L292.2,468.5 L294.2,468.5 L296.2,468.5 L298.2,468.5 L300.2,468.5 L302.2,468.5 L304.2,468.5 L306.2,468.5 L308.2,468.5 L310.2,468.5 L312.2,468.5 L314.2,468.5 L316.2,468.5 L318.2,468.5 L320.2,468.5 L322.2,468.5 L324.2,468.5 L326.2,468.5 L328.2,468.5 L330.2,468.5 L332.2,468.5 L334.1,468.5 L336.1,468.5 L338.1,468.4 L340.1,468.4 L342.1,468.4 L344.1,468.4 L346.1,468.4 L348.1,468.4 L350.1,468.4 L352.1,468.4 L354.1,468.4 L356.1,468.3 L358.1,468.3 L360.1,468.3 L362.1,468.3 L364.1,468.3 L366.1,468.3 L368.1,468.3 L370.1,468.3 L372.1,468.2 L374.1,468.2 L376.1,468.2 L378.1,468.2 L380.1,468.2 L382.1,468.2 L384.1,468.1 L386.1,468.1 L388.1,468.1 L390.1,468.1 L392.1,468.1 L394.1,468.0 L396.1,468.0 L398.1,468.0 L400.1,468.0 L402.1,468.0 L404.1,467.9 L406.1,467.9 L408.1,467.9 L410.1,467.9 L412.1,467.9 L414.1,467.8 L416.1,467.8 L418.1,467.8 L420.1,467.8 L422.1,467.7 L424.1,467.7 L426.1,467.7 L428.1,467.7 L430.1,467.6 L432.1,467.6 L434.1,467.6 L436.1,467.5 L438.1,467.5 L440.1,467.5 L442.1,467.5 L444.1,467.4 L446.1,467.4 L448.1,467.4 L450.1,467.3 L452.1,467.3 L454.1,467.3 L456.1,467.3 L458.1,467.2 L460.1,467.2 L462.1,467.1 L464.1,467.1 L466.1,467.1 L468.1,467.0 L470.1,467.0 L472.1,466.9 L474.1,466.8 L476.1,466.8 L478.1,466.7 L480.1,466.6 L482.1,466.6 L484.1,466.5 L486.1,466.4 L488.1,466.3 L490.1,466.2 L492.1,466.1 L494.1,466.0 L496.1,465.9 L498.1,465.8 L500.1,465.7 L502.1,465.5 L504.1,465.4 L506.1,465.2 L508.1,465.1 L510.1,464.9 L512.1,464.8 L514.1,464.6 L516.0,464.4 L518.0,464.2 L520.0,464.0 L522.0,463.8 L524.0,463.6 L526.0,463.3 L528.0,463.1 L530.0,462.8 L531.9,462.6 L533.9,462.3 L535.9,462.0 L537.9,461.7 L539.8,461.4 L541.8,461.1 L543.8,460.7 L545.8,460.4 L547.7,460.0 L549.7,459.7 L551.7,459.3 L553.6,458.9 L555.6,458.5 L557.5,458.1 L559.5,457.6 L561.4,457.2 L563.4,456.7 L565.3,456.3 L567.3,455.8 L569.2,455.3 L571.1,454.8 L573.1,454.2 L575.0,453.7 L576.9,453.2 L578.8,452.6 L580.7,452.0 L582.7,451.4 L584.6,450.8 L586.5,450.2 L588.4,449.6 L590.3,448.9 L592.2,448.3 L594.0,447.6 L595.9,446.9 L597.8,446.2 L599.7,445.5 L601.5,444.8 L603.4,444.1 L605.2,443.3 L607.1,442.6 L608.9,441.8 L610.8,441.0 L612.6,440.1 L614.4,439.3 L616.2,438.4 L618.0,437.5 L619.7,436.5 L621.5,435.6 L623.2,434.6 L624.9,433.5 L626.6,432.5 L628.3,431.4 L630.0,430.3 L631.6,429.2 L633.3,428.0 L634.9,426.9 L636.5,425.7 L638.2,424.6 L639.8,423.4 L641.4,422.3 L643.1,421.1 L644.7,420.0 L646.3,418.8 L648.0,417.7 L649.7,416.6 L651.3,415.5 L653.0,414.4 L654.7,413.3 L656.4,412.3 L658.1,411.3 L659.9,410.3 L661.6,409.4 L663.5,408.5 L665.3,407.8 L667.2,407.2 L669.2,406.8 L671.2,406.7 L673.2,406.8 L675.1,407.1 L677.1,407.6 L679.0,408.2 L680.9,408.8 L682.8,409.6 L684.6,410.4 L686.4,411.3 L688.1,412.3 L689.8,413.3 L691.5,414.4 L693.1,415.5 L694.7,416.7 L696.3,418.0 L697.8,419.3 L699.3,420.6 L700.8,422.0 L702.2,423.3 L703.7,424.7 L705.1,426.1 L706.5,427.5 L708.0,428.9 L709.4,430.3 L710.9,431.7 L712.4,433.0 L713.9,434.3 L715.5,435.5 L717.1,436.7 L718.7,437.9 L720.3,439.1 L721.9,440.2 L723.6,441.3 L725.3,442.4 L727.0,443.4 L728.8,444.4 L730.5,445.4 L732.3,446.3 L734.1,447.2 L735.9,448.1 L737.7,448.9 L739.5,449.7 L741.4,450.4 L743.2,451.2 L745.1,451.9 L747.0,452.5 L748.9,453.1 L750.8,453.7 L752.7,454.3 L754.7,454.8 L756.6,455.3 L758.5,455.8 L760.5,456.2 L762.4,456.7 L764.4,457.1 L766.4,457.4 L768.3,457.8 L770.3,458.1 L772.3,458.4 L774.3,458.7 L776.2,459.0 L778.2,459.3 L780.2,459.5 L782.2,459.7 L784.2,460.0 L786.2,460.2 L788.2,460.4 L790.2,460.5 L792.1,460.7 L794.1,460.9 L796.1,461.0 L798.1,461.2 L800.1,461.3 L802.1,461.5 L804.1,461.6 L806.1,461.8 L808.1,461.9 L810.1,462.0 L812.1,462.2 L814.1,462.3 L816.1,462.5 L818.1,462.6 L820.1,462.7 L822.1,462.9 L824.1,463.0 L826.1,463.1 L828.1,463.3 L830.0,463.4 L832.0,463.6 L834.0,463.7 L836.0,463.8 L838.0,464.0 L840.0,464.1 L842.0,464.2 L844.0,464.4 L846.0,464.5 L848.0,464.6 L850.0,464.8 L852.0,464.9 L854.0,465.0 L856.0,465.1 L858.0,465.3 L860.0,465.4 L862.0,465.5 L864.0,465.6 L866.0,465.7 L868.0,465.8 L870.0,465.9 L872.0,466.0 L874.0,466.1 L876.0,466.2 L878.0,466.3 L880.0,466.4 L882.0,466.5 L883.9,466.6 L885.9,466.7 L887.9,466.8 L889.9,466.9 L891.9,467.0 L893.9,467.0 L895.9,467.1 L897.9,467.2 L899.9,467.3 L901.9,467.3 L903.9,467.4 L905.9,467.5 L907.9,467.5 L909.9,467.6 L911.9,467.7 L913.9,467.7 L915.9,467.8 L917.9,467.8 L919.9,467.9 L921.9,467.9 L923.9,468.0 L925.9,468.0 L927.9,468.1 L929.9,468.1 L931.9,468.2 L933.9,468.2 L935.9,468.3 L937.9,468.3 L939.9,468.3 L941.9,468.4 L943.9,468.4 L945.9,468.4 L947.9,468.5 L949.9,468.5 L951.9,468.5 L953.9,468.6 L955.9,468.6 L957.9,468.6 L959.9,468.7 L961.9,468.7 L963.9,468.7 L965.9,468.7 L967.9,468.7 L969.9,468.8 L971.9,468.8 L973.9,468.8 L975.9,468.8 L977.9,468.8 L979.9,468.9 L981.9,468.9 L983.9,468.9 L985.9,468.9 L987.9,468.9 L989.9,468.9 L991.9,468.9 L993.9,469.0 L995.9,469.0 L997.9,469.0 L999.9,469.0 L1001.9,469.0 L1003.9,469.0 L1005.9,469.0 L1007.9,469.0 L1009.9,469.0 L1011.9,469.1 L1013.9,469.1 L1015.9,469.1 L1017.9,469.1 L1019.9,469.1 L1021.9,469.1 L1023.9,469.1 L1025.9,469.1 L1027.9,469.1 L1029.9,469.1 L1031.9,469.1 L1033.9,469.2 L1035.9,469.2 L1037.9,469.2 L1039.9,469.2 L1041.9,469.2 L1043.9,469.2 L1045.9,469.2 L1047.9,469.2 L1049.9,469.2 L1051.9,469.2 L1053.9,469.3 L1055.9,469.3 L1057.9,469.3 L1059.9,469.3 L1061.9,469.3 L1063.9,469.3 L1065.9,469.3 L1067.9,469.3 L1069.9,469.3 L1071.9,469.3 L1073.9,469.3 L1075.9,469.3 L1077.9,469.3 L1079.9,469.3 L1081.9,469.3 L1083.9,469.3 L1085.9,469.3 L1087.9,469.3 L1089.9,469.3 L1091.9,469.3 L1093.9,469.3 L1095.9,469.3 L1097.9,469.3 L1099.9,469.3 L1101.9,469.3 L1103.9,469.2 L1105.9,469.2 L1107.9,469.2 L1109.9,469.2 L1111.9,469.2 L1113.9,469.2 L1115.9,469.1 L1117.9,469.1 L1119.9,469.1 L1121.9,469.1 L1123.9,469.0 L1125.9,469.0 L1127.9,469.0 L1129.9,468.9 L1131.9,468.9 L1133.9,468.8 L1135.9,468.8 L1137.9,468.8 L1139.9,468.7 L1141.9,468.7 L1143.9,468.6 L1145.9,468.6 L1147.9,468.5 L1149.9,468.4 L1151.9,468.4 L1153.9,468.3 L1155.9,468.2 L1157.9,468.2 L1159.9,468.1 L1161.9,468.0 L1163.9,467.9 L1165.9,467.9 L1167.9,467.8 L1169.9,467.7 L1171.9,467.6 L1173.9,467.5 L1175.9,467.4 L1177.9,467.3 L1179.9,467.2 L1181.9,467.1 L1183.8,467.0 L1185.8,466.9 L1187.8,466.8 L1189.8,466.7 L1191.8,466.6 L1193.8,466.5 L1195.8,466.4 L1197.8,466.3 L1199.8,466.2 L1201.8,466.1 L1203.8,466.0 L1205.8,465.9 L1207.8,465.8 L1209.8,465.7 L1211.8,465.6 L1213.8,465.5 L1215.8,465.4 L1217.8,465.3 L1219.8,465.2 L1221.8,465.2 L1223.8,465.1 L1225.8,465.0 L1227.8,464.9 L1229.8,464.8 L1231.8,464.8 L1233.8,464.7 L1235.8,464.6 L1237.8,464.6 L1239.8,464.5 L1241.8,464.4 L1243.8,464.4 L1245.8,464.4 L1247.8,464.3 L1249.8,464.3 L1251.8,464.2 L1253.8,464.2 L1255.8,464.2 L1257.8,464.2 L1259.8,464.2 L1261.8,464.2 L1263.8,464.2 L1265.8,464.2 L1267.8,464.2 L1269.8,464.2 L1271.8,464.3 L1273.8,464.3 L1275.8,464.3 L1277.8,464.4 L1279.8,464.5 L1281.8,464.5 L1283.8,464.6 L1285.8,464.7 L1287.8,464.7 L1289.8,464.8 L1291.8,464.9 L1293.8,465.0 L1295.8,465.1 L1297.8,465.2 L1299.8,465.3 L1301.8,465.4 L1303.8,465.5 L1305.7,465.6 L1307.7,465.7 L1309.7,465.8 L1311.7,465.9 L1313.7,466.0 L1315.7,466.2 L1317.7,466.3 L1319.7,466.4 L1321.7,466.5 L1323.7,466.6 L1325.7,466.7 L1327.7,466.9 L1329.7,467.0 L1331.7,467.1 L1333.7,467.2 L1335.7,467.3 L1337.7,467.4 L1339.7,467.5 L1341.7,467.6 L1343.7,467.7 L1345.7,467.8 L1347.7,467.9 L1349.7,468.0 L1351.7,468.1 L1353.7,468.2 L1355.7,468.3 L1357.7,468.4 L1359.7,468.5 L1361.7,468.5 L1363.7,468.6 L1365.7,468.7 L1367.7,468.7 L1369.7,468.8 L1371.7,468.8 L1373.7,468.9 L1375.7,468.9 L1377.7,469.0 L1379.7,469.0 L1381.7,469.1 L1383.7,469.1 L1385.7,469.2 L1387.7,469.2 L1389.7,469.2 L1391.7,469.3 L1393.7,469.3 L1395.7,469.3 L1397.7,469.4 L1399.6,469.4 L1401.6,469.4 L1403.6,469.5 L1405.6,469.5 L1407.6,469.5 L1409.6,469.6 L1411.6,469.6 L1413.6,469.6 L1415.6,469.6 L1417.6,469.7 L1419.6,469.7 L1421.6,469.7 L1423.6,469.7 L1425.6,469.7 L1427.6,469.8 L1429.6,469.8 L1431.6,469.8 L1433.6,469.8 L1435.6,469.9 L1437.6,469.9 L1439.6,469.9 L1441.6,469.9 L1443.6,469.9 L1445.6,470.0 L1447.6,470.0 L1449.6,470.0 L1451.6,470.0 L1453.6,470.0 L1455.6,470.1 L1457.6,470.1 L1459.6,470.1 L1461.6,470.1 L1463.6,470.1 L1465.6,470.1 L1467.6,470.2 L1469.6,470.2 L1471.6,470.2 L1473.6,470.2 L1475.6,470.2 L1477.6,470.2 L1479.6,470.2 L1481.6,470.3 L1483.6,470.3 L1485.6,470.3 L1487.6,470.3 L1489.6,470.3 L1491.6,470.3 L1493.6,470.3 L1495.6,470.3 L1497.6,470.4 L1499.6,470.4 L1501.6,470.4 L1503.6,470.4 L1505.6,470.4 L1507.6,470.4 L1509.6,470.4 L1511.6,470.4 L1513.6,470.4 L1515.6,470.4 L1517.6,470.4 L1519.6,470.5 L1521.6,470.5 L1523.6,470.5 L1525.6,470.5 L1527.6,470.5 L1529.6,470.5 L1531.6,470.5 L1533.6,470.5 L1535.6,470.5 L1537.6,470.5 L1539.6,470.5 L1541.6,470.5 L1543.6,470.5 L1545.6,470.5 L1547.6,470.5 L1549.6,470.5 L1551.6,470.5 L1553.6,470.6 L1555.6,470.6 L1557.6,470.6 L1559.6,470.6 L1561.6,470.6 L1563.6,470.6 L1565.6,470.6 L1567.6,470.6 L1569.6,470.6 L1571.6,470.6 L1573.6,470.6 L1575.6,470.6 L1577.6,470.6 L1579.6,470.6 L1581.6,470.6 L1583.6,470.6 L1585.6,470.6 L1587.6,470.6 L1589.6,470.6 L1591.6,470.6 L1593.6,470.6 L1595.6,470.6 L1597.6,470.6 L1599.6,470.6 L1601.6,470.6 L1603.6,470.6 L1605.6,470.6 L1607.6,470.6 L1609.6,470.6 L1611.6,470.6 L1613.6,470.6 L1615.6,470.6 L1617.6,470.6 L1619.6,470.6 L1621.6,470.6 L1623.6,470.6 L1625.6,470.6 L1627.6,470.6 L1629.6,470.6 L1631.6,470.6 L1633.6,470.6 L1635.6,470.6 L1637.6,470.6 L1639.6,470.6 L1641.6,470.6 L1643.6,470.6 L1645.6,470.6 L1647.6,470.6 L1649.6,470.6 L1651.6,470.6 L1653.6,470.6 L1655.6,470.6 L1657.6,470.6 L1659.6,470.5 L1661.6,470.5 L1663.6,470.5 L1665.6,470.5 L1667.6,470.5 L1669.6,470.5 L1671.6,470.5 L1673.6,470.5 L1675.6,470.5 L1677.6,470.5 L1679.6,470.5 L1681.6,470.5 L1683.6,470.5 L1685.6,470.5 L1687.6,470.5 L1689.6,470.5 L1691.6,470.4 L1693.6,470.4 L1695.6,470.4 L1697.6,470.4 L1699.6,470.4 L1701.6,470.4 L1703.6,470.4 L1705.6,470.4 L1707.6,470.4 L1709.6,470.3 L1711.6,470.3 L1713.6,470.3 L1715.6,470.3 L1717.6,470.3 L1719.6,470.3 L1721.6,470.3 L1723.6,470.2 L1725.6,470.2 L1727.6,470.2 L1729.6,470.2 L1731.6,470.2 L1733.6,470.2 L1735.6,470.1 L1737.6,470.1 L1739.6,470.1 L1741.6,470.1 L1743.6,470.1 L1745.6,470.0 L1747.6,470.0 L1749.6,470.0 L1751.6,470.0 L1753.6,470.0 L1755.6,469.9 L1757.6,469.9 L1759.6,469.9 L1761.6,469.9 L1763.6,469.8 L1765.6,469.8 L1767.6,469.8 L1769.6,469.7 L1771.6,469.7 L1773.6,469.7 L1775.6,469.7 L1777.6,469.6 L1779.6,469.6 L1781.6,469.6 L1783.6,469.5 L1785.6,469.5 L1787.6,469.5 L1789.6,469.4 L1791.6,469.4 L1793.6,469.4 L1795.6,469.3 L1797.6,469.3 L1799.6,469.3 L1801.6,469.2" fill="none" stroke="#ff0000" stroke-width="8.6" stroke-linejoin="round" stroke-linecap="butt"/>
<path d="M154.2,934.2 L156.2,934.4 L158.2,934.7 L160.2,934.9 L162.2,935.2 L164.1,935.4 L166.1,935.6 L168.1,935.8 L170.1,936.0 L172.1,936.3 L174.1,936.5 L176.1,936.7 L178.1,936.9 L180.0,937.1 L182.0,937.2 L184.0,937.4 L186.0,937.6 L188.0,937.8 L190.0,938.0 L192.0,938.1 L194.0,938.3 L196.0,938.4 L198.0,938.6 L200.0,938.7 L201.9,938.9 L203.9,939.0 L205.9,939.2 L207.9,939.3 L209.9,939.4 L211.9,939.6 L213.9,939.7 L215.9,939.8 L217.9,939.9 L219.9,940.0 L221.9,940.2 L223.9,940.3 L225.9,940.4 L227.9,940.5 L229.9,940.6 L231.9,940.7 L233.9,940.7 L235.9,940.8 L237.9,940.9 L239.9,941.0 L241.9,941.1 L243.9,941.1 L245.9,941.2 L247.8,941.3 L249.8,941.4 L251.8,941.4 L253.8,941.5 L255.8,941.5 L257.8,941.6 L259.8,941.6 L261.8,941.7 L263.8,941.7 L265.8,941.8 L267.8,941.8 L269.8,941.9 L271.8,941.9 L273.8,942.0 L275.8,942.0 L277.8,942.0 L279.8,942.1 L281.8,942.1 L283.8,942.1 L285.8,942.1 L287.8,942.2 L289.8,942.2 L291.8,942.2 L293.8,942.2 L295.8,942.2 L297.8,942.3 L299.8,942.3 L301.8,942.3 L303.8,942.3 L305.8,942.3 L307.8,942.3 L309.8,942.3 L311.8,942.3 L313.8,942.3 L315.8,942.3 L317.8,942.3 L319.8,942.3 L321.8,942.3 L323.8,942.3 L325.8,942.3 L327.8,942.3 L329.8,942.3 L331.8,942.3 L333.8,942.3 L335.8,942.3 L337.8,942.3 L339.8,942.3 L341.8,942.3 L343.8,942.3 L345.8,942.3 L347.8,942.3 L349.8,942.3 L351.8,942.3 L353.8,942.3 L355.8,942.2 L357.8,942.2 L359.8,942.2 L361.8,942.2 L363.8,942.2 L365.8,942.2 L367.7,942.2 L369.7,942.2 L371.7,942.2 L373.7,942.2 L375.7,942.2 L377.7,942.2 L379.7,942.2 L381.7,942.2 L383.7,942.1 L385.7,942.1 L387.7,942.1 L389.7,942.1 L391.7,942.1 L393.7,942.1 L395.7,942.1 L397.7,942.1 L399.7,942.1 L401.7,942.1 L403.7,942.1 L405.7,942.1 L407.7,942.1 L409.7,942.1 L411.7,942.1 L413.7,942.1 L415.7,942.1 L417.7,942.1 L419.7,942.1 L421.7,942.1 L423.7,942.0 L425.7,942.0 L427.7,942.0 L429.7,942.0 L431.7,942.0 L433.7,941.9 L435.7,941.9 L437.7,941.9 L439.7,941.9 L441.7,941.8 L443.7,941.8 L445.7,941.8 L447.7,941.7 L449.7,941.7 L451.7,941.7 L453.7,941.6 L455.7,941.6 L457.7,941.5 L459.7,941.5 L461.7,941.4 L463.7,941.3 L465.7,941.3 L467.7,941.2 L469.7,941.1 L471.7,941.1 L473.7,941.0 L475.7,940.9 L477.7,940.8 L479.6,940.7 L481.6,940.6 L483.6,940.5 L485.6,940.4 L487.6,940.3 L489.6,940.2 L491.6,940.1 L493.6,940.0 L495.6,939.8 L497.6,939.7 L499.6,939.6 L501.6,939.4 L503.6,939.3 L505.6,939.1 L507.6,938.9 L509.6,938.8 L511.5,938.6 L513.5,938.3 L515.5,938.1 L517.5,937.9 L519.5,937.6 L521.5,937.3 L523.4,937.0 L525.4,936.7 L527.4,936.3 L529.3,936.0 L531.3,935.6 L533.3,935.2 L535.2,934.7 L537.1,934.2 L539.1,933.7 L541.0,933.2 L542.9,932.6 L544.8,932.1 L546.7,931.5 L548.7,930.9 L550.6,930.3 L552.5,929.8 L554.5,929.4 L556.4,929.1 L558.4,928.8 L560.4,928.6 L562.4,928.4 L564.4,928.2 L566.4,928.0 L568.4,927.8 L570.3,927.5 L572.3,927.1 L574.2,926.6 L576.1,925.9 L577.9,925.1 L579.7,924.2 L581.5,923.3 L583.3,922.4 L585.1,921.6 L587.0,920.9 L588.8,920.1 L590.7,919.4 L592.5,918.6 L594.3,917.8 L596.1,916.9 L597.9,915.9 L599.6,914.9 L601.3,913.8 L602.9,912.7 L604.5,911.5 L606.0,910.2 L607.5,908.9 L609.0,907.5 L610.4,906.1 L611.8,904.6 L613.1,903.1 L614.4,901.6 L615.6,900.0 L616.8,898.4 L617.9,896.8 L619.0,895.1 L620.1,893.4 L621.1,891.7 L622.1,890.0 L623.1,888.2 L624.0,886.4 L624.9,884.7 L625.8,882.9 L626.7,881.1 L627.5,879.2 L628.3,877.4 L629.1,875.6 L629.8,873.7 L630.6,871.9 L631.3,870.0 L632.0,868.2 L632.8,866.3 L633.4,864.4 L634.1,862.5 L634.8,860.6 L635.4,858.8 L636.1,856.9 L636.7,855.0 L637.3,853.1 L637.9,851.1 L638.5,849.2 L639.0,847.3 L639.6,845.4 L640.1,843.5 L640.7,841.6 L641.2,839.6 L641.7,837.7 L642.2,835.8 L642.7,833.8 L643.2,831.9 L643.7,829.9 L644.1,828.0 L644.6,826.1 L645.0,824.1 L645.5,822.2 L645.9,820.2 L646.3,818.3 L646.8,816.3 L647.2,814.3 L647.6,812.4 L648.0,810.4 L648.3,808.5 L648.7,806.5 L649.1,804.5 L649.5,802.6 L649.8,800.6 L650.2,798.6 L650.6,796.7 L650.9,794.7 L651.3,792.7 L651.6,790.8 L652.0,788.8 L652.3,786.8 L652.7,784.9 L653.0,782.9 L653.3,780.9 L653.7,779.0 L654.0,777.0 L654.3,775.0 L654.7,773.0 L655.0,771.1 L655.3,769.1 L655.7,767.1 L656.0,765.2 L656.3,763.2 L656.7,761.2 L657.0,759.3 L657.3,757.3 L657.7,755.3 L658.0,753.3 L658.3,751.4 L658.7,749.4 L659.0,747.4 L659.4,745.5 L659.7,743.5 L660.1,741.5 L660.4,739.6 L660.8,737.6 L661.2,735.6 L661.5,733.7 L661.9,731.7 L662.3,729.7 L662.7,727.8 L663.1,725.8 L663.5,723.9 L663.9,721.9 L664.3,720.0 L664.7,718.0 L665.1,716.1 L665.6,714.1 L666.0,712.2 L666.5,710.2 L666.9,708.3 L667.4,706.3 L667.9,704.4 L668.4,702.5 L668.9,700.5 L669.5,698.6 L670.0,696.7 L670.6,694.8 L671.1,692.8 L671.7,690.9 L672.3,689.0 L672.9,687.1 L673.5,685.2 L674.2,683.3 L674.9,681.4 L675.6,679.6 L676.4,677.8 L677.3,676.0 L678.3,674.2 L679.4,672.6 L680.9,671.3 L682.8,671.2 L684.4,672.4 L685.6,674.0 L686.4,675.9 L687.1,677.8 L687.6,679.7 L688.3,681.6 L689.1,683.4 L690.5,684.8 L692.2,685.9 L694.0,686.7 L695.7,687.8 L696.9,689.4 L697.6,691.2 L698.1,693.2 L698.4,695.2 L698.8,697.1 L699.3,699.0 L699.9,701.0 L700.5,702.9 L701.1,704.8 L701.7,706.7 L702.4,708.6 L703.0,710.4 L703.6,712.4 L704.2,714.3 L704.7,716.2 L705.2,718.1 L705.6,720.1 L706.0,722.1 L706.4,724.0 L706.8,726.0 L707.1,727.9 L707.5,729.9 L707.8,731.9 L708.2,733.8 L708.5,735.8 L708.9,737.8 L709.2,739.8 L709.6,741.7 L709.9,743.7 L710.2,745.7 L710.5,747.6 L710.9,749.6 L711.2,751.6 L711.5,753.6 L711.8,755.5 L712.1,757.5 L712.5,759.5 L712.8,761.4 L713.1,763.4 L713.4,765.4 L713.8,767.4 L714.1,769.3 L714.4,771.3 L714.7,773.3 L715.1,775.2 L715.4,777.2 L715.7,779.2 L716.1,781.2 L716.4,783.1 L716.8,785.1 L717.1,787.1 L717.5,789.0 L717.9,791.0 L718.2,793.0 L718.6,794.9 L719.0,796.9 L719.4,798.8 L719.8,800.8 L720.2,802.7 L720.6,804.7 L721.0,806.7 L721.5,808.6 L721.9,810.6 L722.4,812.5 L722.8,814.4 L723.3,816.4 L723.8,818.3 L724.3,820.3 L724.8,822.2 L725.3,824.1 L725.9,826.1 L726.4,828.0 L727.0,829.9 L727.6,831.8 L728.1,833.7 L728.8,835.6 L729.4,837.5 L730.1,839.4 L730.7,841.3 L731.4,843.1 L732.2,845.0 L732.9,846.9 L733.7,848.7 L734.5,850.5 L735.3,852.4 L736.2,854.2 L737.0,856.0 L738.0,857.7 L738.9,859.5 L739.9,861.2 L740.9,863.0 L741.9,864.7 L743.0,866.4 L744.1,868.0 L745.3,869.6 L746.5,871.2 L747.8,872.7 L749.2,874.2 L750.6,875.5 L752.2,876.8 L753.8,877.9 L755.7,878.7 L757.6,878.4 L759.4,877.4 L761.1,876.3 L762.9,875.6 L764.8,876.2 L766.2,877.6 L767.5,879.1 L768.8,880.6 L770.1,882.2 L771.3,883.8 L772.5,885.3 L773.7,887.0 L774.9,888.6 L776.1,890.2 L777.3,891.7 L778.6,893.3 L779.8,894.8 L781.2,896.3 L782.5,897.8 L784.0,899.2 L785.5,900.5 L787.1,901.7 L788.7,902.9 L790.4,903.9 L792.1,904.9 L793.9,905.8 L795.7,906.7 L797.5,907.5 L799.4,908.3 L801.2,909.0 L803.1,909.7 L805.0,910.4 L806.9,911.1 L808.7,911.7 L810.6,912.3 L812.6,912.9 L814.5,913.5 L816.4,914.1 L818.3,914.6 L820.2,915.2 L822.1,915.7 L824.1,916.2 L826.0,916.7 L828.0,917.2 L829.9,917.7 L831.8,918.1 L833.8,918.6 L835.7,919.0 L837.7,919.4 L839.7,919.8 L841.6,920.2 L843.6,920.6 L845.5,920.9 L847.5,921.3 L849.5,921.6 L851.5,921.9 L853.4,922.3 L855.4,922.6 L857.4,922.8 L859.4,923.1 L861.3,923.4 L863.3,923.6 L865.3,923.9 L867.3,924.1 L869.3,924.3 L871.3,924.6 L873.3,924.8 L875.2,925.0 L877.2,925.2 L879.2,925.3 L881.2,925.5 L883.2,925.7 L885.2,925.8 L887.2,926.0 L889.2,926.1 L891.2,926.2 L893.2,926.4 L895.2,926.5 L897.2,926.6 L899.2,926.7 L901.2,926.8 L903.2,926.9 L905.2,927.0 L907.1,927.1 L909.1,927.1 L911.1,927.2 L913.1,927.3 L915.1,927.4 L917.1,927.4 L919.1,927.5 L921.1,927.5 L923.1,927.6 L925.1,927.6 L927.1,927.7 L929.1,927.7 L931.1,927.8 L933.1,927.8 L935.1,927.8 L937.1,927.9 L939.1,927.9 L941.1,927.9 L943.1,928.0 L945.1,928.0 L947.1,928.1 L949.1,928.1 L951.1,928.1 L953.1,928.2 L955.1,928.2 L957.1,928.2 L959.1,928.3 L961.1,928.3 L963.1,928.4 L965.1,928.4 L967.1,928.5 L969.1,928.5 L971.1,928.6 L973.1,928.6 L975.1,928.7 L977.1,928.7 L979.1,928.8 L981.1,928.9 L983.1,929.0 L985.1,929.0 L987.1,929.1 L989.1,929.2 L991.1,929.3 L993.0,929.4 L995.0,929.5 L997.0,929.6 L999.0,929.7 L1001.0,929.8 L1003.0,929.9 L1005.0,930.1 L1007.0,930.2 L1009.0,930.3 L1011.0,930.4 L1013.0,930.5 L1015.0,930.7 L1017.0,930.8 L1019.0,930.9 L1021.0,931.0 L1023.0,931.2 L1025.0,931.3 L1027.0,931.4 L1029.0,931.6 L1031.0,931.7 L1032.9,931.8 L1034.9,932.0 L1036.9,932.1 L1038.9,932.2 L1040.9,932.4 L1042.9,932.5 L1044.9,932.6 L1046.9,932.7 L1048.9,932.9 L1050.9,933.0 L1052.9,933.1 L1054.9,933.2 L1056.9,933.4 L1058.9,933.5 L1060.9,933.6 L1062.9,933.7 L1064.9,933.8 L1066.9,933.9 L1068.9,934.0 L1070.8,934.1 L1072.8,934.2 L1074.8,934.3 L1076.8,934.4 L1078.8,934.5 L1080.8,934.6 L1082.8,934.6 L1084.8,934.7 L1086.8,934.8 L1088.8,934.8 L1090.8,934.9 L1092.8,935.0 L1094.8,935.0 L1096.8,935.0 L1098.8,935.1 L1100.8,935.1 L1102.8,935.1 L1104.8,935.2 L1106.8,935.2 L1108.8,935.2 L1110.8,935.2 L1112.8,935.2 L1114.8,935.1 L1116.8,935.1 L1118.8,935.1 L1120.8,935.0 L1122.8,935.0 L1124.8,934.9 L1126.8,934.9 L1128.8,934.8 L1130.8,934.7 L1132.8,934.6 L1134.8,934.5 L1136.8,934.4 L1138.8,934.3 L1140.8,934.2 L1142.8,934.0 L1144.7,933.9 L1146.7,933.7 L1148.7,933.6 L1150.7,933.4 L1152.7,933.2 L1154.7,933.0 L1156.7,932.8 L1158.7,932.6 L1160.7,932.3 L1162.6,932.1 L1164.6,931.8 L1166.6,931.6 L1168.6,931.3 L1170.6,931.0 L1172.5,930.7 L1174.5,930.4 L1176.5,930.1 L1178.5,929.8 L1180.4,929.4 L1182.4,929.1 L1184.4,928.7 L1186.3,928.4 L1188.3,928.0 L1190.3,927.7 L1192.2,927.3 L1194.2,927.0 L1196.2,926.6 L1198.1,926.2 L1200.1,925.8 L1202.1,925.5 L1204.0,925.1 L1206.0,924.7 L1207.9,924.4 L1209.9,924.0 L1211.9,923.6 L1213.8,923.3 L1215.8,922.9 L1217.8,922.6 L1219.7,922.2 L1221.7,921.9 L1223.7,921.6 L1225.7,921.2 L1227.6,920.9 L1229.6,920.6 L1231.6,920.3 L1233.6,920.0 L1235.5,919.7 L1237.5,919.5 L1239.5,919.2 L1241.5,919.0 L1243.5,918.8 L1245.5,918.5 L1247.4,918.4 L1249.4,918.2 L1251.4,918.0 L1253.4,917.9 L1255.4,917.7 L1257.4,917.6 L1259.4,917.5 L1261.4,917.4 L1263.4,917.4 L1265.4,917.4 L1267.4,917.3 L1269.4,917.3 L1271.4,917.4 L1273.4,917.4 L1275.4,917.4 L1277.4,917.5 L1279.4,917.6 L1281.4,917.7 L1283.4,917.8 L1285.4,917.9 L1287.4,918.0 L1289.4,918.2 L1291.4,918.3 L1293.3,918.5 L1295.3,918.7 L1297.3,918.9 L1299.3,919.0 L1301.3,919.2 L1303.3,919.5 L1305.3,919.7 L1307.3,919.9 L1309.2,920.1 L1311.2,920.4 L1313.2,920.6 L1315.2,920.8 L1317.2,921.1 L1319.2,921.3 L1321.1,921.6 L1323.1,921.9 L1325.1,922.1 L1327.1,922.4 L1329.1,922.6 L1331.1,922.9 L1333.0,923.2 L1335.0,923.4 L1337.0,923.7 L1339.0,924.0 L1341.0,924.2 L1342.9,924.5 L1344.9,924.8 L1346.9,925.0 L1348.9,925.3 L1350.9,925.6 L1352.8,925.9 L1354.8,926.1 L1356.8,926.4 L1358.8,926.7 L1360.8,926.9 L1362.7,927.2 L1364.7,927.5 L1366.7,927.7 L1368.7,928.0 L1370.7,928.3 L1372.6,928.5 L1374.6,928.8 L1376.6,929.1 L1378.6,929.3 L1380.6,929.6 L1382.6,929.8 L1384.5,930.1 L1386.5,930.3 L1388.5,930.6 L1390.5,930.8 L1392.5,931.1 L1394.4,931.3 L1396.4,931.6 L1398.4,931.8 L1400.4,932.0 L1402.4,932.3 L1404.4,932.5 L1406.4,932.7 L1408.3,932.9 L1410.3,933.1 L1412.3,933.3 L1414.3,933.5 L1416.3,933.7 L1418.3,933.9 L1420.3,934.1 L1422.3,934.3 L1424.3,934.5 L1426.2,934.7 L1428.2,934.9 L1430.2,935.0 L1432.2,935.2 L1434.2,935.4 L1436.2,935.5 L1438.2,935.7 L1440.2,935.8 L1442.2,936.0 L1444.2,936.1 L1446.2,936.3 L1448.2,936.4 L1450.2,936.6 L1452.1,936.7 L1454.1,936.8 L1456.1,937.0 L1458.1,937.1 L1460.1,937.2 L1462.1,937.4 L1464.1,937.5 L1466.1,937.6 L1468.1,937.7 L1470.1,937.8 L1472.1,937.9 L1474.1,938.0 L1476.1,938.1 L1478.1,938.2 L1480.1,938.3 L1482.1,938.4 L1484.1,938.5 L1486.1,938.6 L1488.1,938.7 L1490.1,938.8 L1492.1,938.9 L1494.1,939.0 L1496.1,939.1 L1498.0,939.2 L1500.0,939.3 L1502.0,939.3 L1504.0,939.4 L1506.0,939.5 L1508.0,939.6 L1510.0,939.7 L1512.0,939.8 L1514.0,939.8 L1516.0,939.9 L1518.0,940.0 L1520.0,940.1 L1522.0,940.1 L1524.0,940.2 L1526.0,940.3 L1528.0,940.3 L1530.0,940.4 L1532.0,940.5 L1534.0,940.5 L1536.0,940.6 L1538.0,940.7 L1540.0,940.7 L1542.0,940.8 L1544.0,940.9 L1546.0,940.9 L1548.0,941.0 L1550.0,941.0 L1552.0,941.1 L1554.0,941.2 L1556.0,941.2 L1558.0,941.3 L1560.0,941.3 L1562.0,941.4 L1564.0,941.4 L1566.0,941.5 L1568.0,941.5 L1570.0,941.6 L1572.0,941.6 L1573.9,941.6 L1575.9,941.7 L1577.9,941.7 L1579.9,941.8 L1581.9,941.8 L1583.9,941.8 L1585.9,941.9 L1587.9,941.9 L1589.9,941.9 L1591.9,942.0 L1593.9,942.0 L1595.9,942.0 L1597.9,942.1 L1599.9,942.1 L1601.9,942.1 L1603.9,942.1 L1605.9,942.2 L1607.9,942.2 L1609.9,942.2 L1611.9,942.2 L1613.9,942.2 L1615.9,942.2 L1617.9,942.3 L1619.9,942.3 L1621.9,942.3 L1623.9,942.3 L1625.9,942.3 L1627.9,942.3 L1629.9,942.3 L1631.9,942.3 L1633.9,942.3 L1635.9,942.3 L1637.9,942.3 L1639.9,942.3 L1641.9,942.3 L1643.9,942.3 L1645.9,942.3 L1647.9,942.3 L1649.9,942.2 L1651.9,942.2 L1653.9,942.2 L1655.9,942.2 L1657.9,942.2 L1659.9,942.2 L1661.9,942.1 L1663.9,942.1 L1665.9,942.1 L1667.9,942.0 L1669.9,942.0 L1671.9,942.0 L1673.9,942.0 L1675.9,941.9 L1677.9,941.9 L1679.9,941.8 L1681.9,941.8 L1683.9,941.8 L1685.9,941.7 L1687.9,941.7 L1689.9,941.6 L1691.9,941.6 L1693.8,941.5 L1695.8,941.5 L1697.8,941.4 L1699.8,941.3 L1701.8,941.3 L1703.8,941.2 L1705.8,941.2 L1707.8,941.1 L1709.8,941.0 L1711.8,941.0 L1713.8,940.9 L1715.8,940.8 L1717.8,940.7 L1719.8,940.7 L1721.8,940.6 L1723.8,940.5 L1725.8,940.4 L1727.8,940.3 L1729.8,940.2 L1731.8,940.1 L1733.8,940.1 L1735.8,940.0 L1737.8,939.9 L1739.8,939.8 L1741.8,939.7 L1743.8,939.6 L1745.8,939.5 L1747.8,939.3 L1749.8,939.2 L1751.8,939.1 L1753.8,939.0 L1755.7,938.9 L1757.7,938.8 L1759.7,938.7 L1761.7,938.5 L1763.7,938.4 L1765.7,938.3 L1767.7,938.2 L1769.7,938.0 L1771.7,937.9 L1773.7,937.8 L1775.7,937.6 L1777.7,937.5 L1779.7,937.3 L1781.7,937.2 L1783.7,937.0 L1785.7,936.9 L1787.6,936.7 L1789.6,936.6 L1791.6,936.4 L1793.6,936.3 L1795.6,936.1 L1797.6,935.9 L1799.6,935.8 L1801.6,935.6" fill="none" stroke="#ff0000" stroke-width="8.6" stroke-linejoin="round" stroke-linecap="butt"/>
<path d="M154.3,1385.8 L159.2,1386.6 L189.2,1391.2 L212.0,1396.5 L228.4,1399.0 L267.6,1401.4 L319.9,1401.6 L385.0,1401.0 L432.9,1400.8 L480.9,1399.9 L528.8,1398.4 L560.0,1396.3 L581.5,1393.3 L597.3,1387.4 L614.5,1364.7 L665.0,1239.2 L681.1,1213.2 L698.2,1202.8 L714.5,1208.8 L731.4,1232.8 L764.8,1313.2 L781.5,1341.6 L814.8,1369.7 L831.5,1378.9 L848.2,1383.8 L864.2,1386.4 L889.3,1386.9 L935.1,1387.1 L980.8,1388.0 L1026.6,1389.2 L1065.0,1390.4 L1121.0,1392.5 L1182.0,1394.7 L1243.0,1397.0 L1304.0,1398.6 L1340.0,1400.1 L1413.4,1400.9 L1491.9,1401.5 L1575.0,1401.8 L1635.4,1402.0 L1687.6,1401.8 L1720.3,1400.6 L1753.0,1396.8 L1796.6,1391.7 L1801.6,1391.1" fill="none" stroke="#ff0000" stroke-width="8.6" stroke-linejoin="round" stroke-linecap="butt"/>
</g>
<text transform="translate(158.95,1575.20) scale(1,1.035)" x="0" y="0" font-family="Liberation Sans, Arial, sans-serif" font-weight="bold" font-size="72" text-anchor="middle">80</text>
<text transform="translate(410.83,1575.20) scale(1,1.035)" x="0" y="0" font-family="Liberation Sans, Arial, sans-serif" font-weight="bold" font-size="72" text-anchor="middle">60</text>
<text transform="translate(662.71,1575.20) scale(1,1.035)" x="0" y="0" font-family="Liberation Sans, Arial, sans-serif" font-weight="bold" font-size="72" text-anchor="middle">40</text>
<text transform="translate(914.59,1575.20) scale(1,1.035)" x="0" y="0" font-family="Liberation Sans, Arial, sans-serif" font-weight="bold" font-size="72" text-anchor="middle">20</text>
<text transform="translate(1166.47,1575.20) scale(1,1.035)" x="0" y="0" font-family="Liberation Sans, Arial, sans-serif" font-weight="bold" font-size="72" text-anchor="middle">0</text>
<text transform="translate(1418.35,1575.20) scale(1,1.035)" x="0" y="0" font-family="Liberation Sans, Arial, sans-serif" font-weight="bold" font-size="72" text-anchor="middle">-20</text>
<text transform="translate(1670.23,1575.20) scale(1,1.035)" x="0" y="0" font-family="Liberation Sans, Arial, sans-serif" font-weight="bold" font-size="72" text-anchor="middle">-40</text>
<text transform="translate(602.20,100.20) scale(1,1.02)" x="0" y="0" font-family="Liberation Sans, Arial, sans-serif" font-weight="bold" font-size="72.8" text-anchor="start">38 ppm</text>
<text transform="translate(1117.60,107.00) scale(1,1.0)" x="0" y="0" font-family="Liberation Sans, Arial, sans-serif" font-weight="bold" font-size="60.7" text-anchor="start">Fresh sample</text>
<text transform="translate(1116.30,182.80) scale(1,1.0)" x="0" y="0" font-family="Liberation Sans, Arial, sans-serif" font-weight="bold" font-size="60.6" text-anchor="start">Aged sample</text>
<text transform="translate(1296.80,255.80) scale(1,1.02)" x="0" y="0" font-family="Liberation Sans, Arial, sans-serif" font-weight="bold" font-size="72.6" text-anchor="start">-7 ppm</text>
<text transform="translate(1292.20,350.90) scale(1,1.03)" x="0" y="0" font-family="Liberation Sans, Arial, sans-serif" font-weight="bold" font-size="64.6" text-anchor="start">Tb-Cu-SAPO-18</text>
<text transform="translate(1289.80,822.90) scale(1,1.03)" x="0" y="0" font-family="Liberation Sans, Arial, sans-serif" font-weight="bold" font-size="63.9" text-anchor="start">Ce-Cu-SAPO-18</text>
<text transform="translate(1295.60,1258.90) scale(1,1.03)" x="0" y="0" font-family="Liberation Sans, Arial, sans-serif" font-weight="bold" font-size="64.5" text-anchor="start">Cu-SAPO-18</text>
<text transform="translate(848.90,337.20) scale(1,1.03)" x="0" y="0" font-family="Liberation Sans, Arial, sans-serif" font-weight="bold" font-size="79.5" text-anchor="start">66.8%</text>
<text transform="translate(852.60,772.60) scale(1,1.03)" x="0" y="0" font-family="Liberation Sans, Arial, sans-serif" font-weight="bold" font-size="79.5" text-anchor="start">4.1%</text>
<text transform="translate(850.00,1219.00) scale(1,1.03)" x="0" y="0" font-family="Liberation Sans, Arial, sans-serif" font-weight="bold" font-size="79.5" text-anchor="start">35.1%</text>
<text transform="translate(493.00,1693.80) scale(1,1.0)" x="0" y="0" font-family="Liberation Sans, Arial, sans-serif" font-weight="bold" font-size="89" text-anchor="start">Chemical shift (ppm)</text>
<text x="0" y="0" font-family="Liberation Sans, Arial, sans-serif" font-weight="bold" font-size="88.5" transform="translate(97.9,1026) rotate(-90)">Intensity (a.u.)</text>
<line x1="794.0" y1="253.3" x2="794.0" y2="336.6" stroke="#000" stroke-width="8.1"/><path d="M783.2,334.6 L804.9,334.6 L794.0,376.7 Z" fill="#000" stroke="#000" stroke-width="8.0" stroke-linejoin="round"/>
<line x1="797.5" y1="689.3" x2="797.5" y2="772.7" stroke="#000" stroke-width="8.7"/><path d="M787.0,770.7 L808.0,770.7 L797.5,812.9 Z" fill="#000" stroke="#000" stroke-width="8.0" stroke-linejoin="round"/>
<line x1="794.0" y1="1134.4" x2="794.0" y2="1218.0" stroke="#000" stroke-width="8.1"/><path d="M783.4,1216.0 L804.9,1216.0 L794.0,1257.9 Z" fill="#000" stroke="#000" stroke-width="8.0" stroke-linejoin="round"/>
<line x1="967" y1="85.7" x2="1101.3" y2="85.7" stroke="#000" stroke-width="8.6"/>
<line x1="967" y1="162.4" x2="1101.3" y2="162.4" stroke="#ff0000" stroke-width="8.7"/>
</svg>
</body></html>
